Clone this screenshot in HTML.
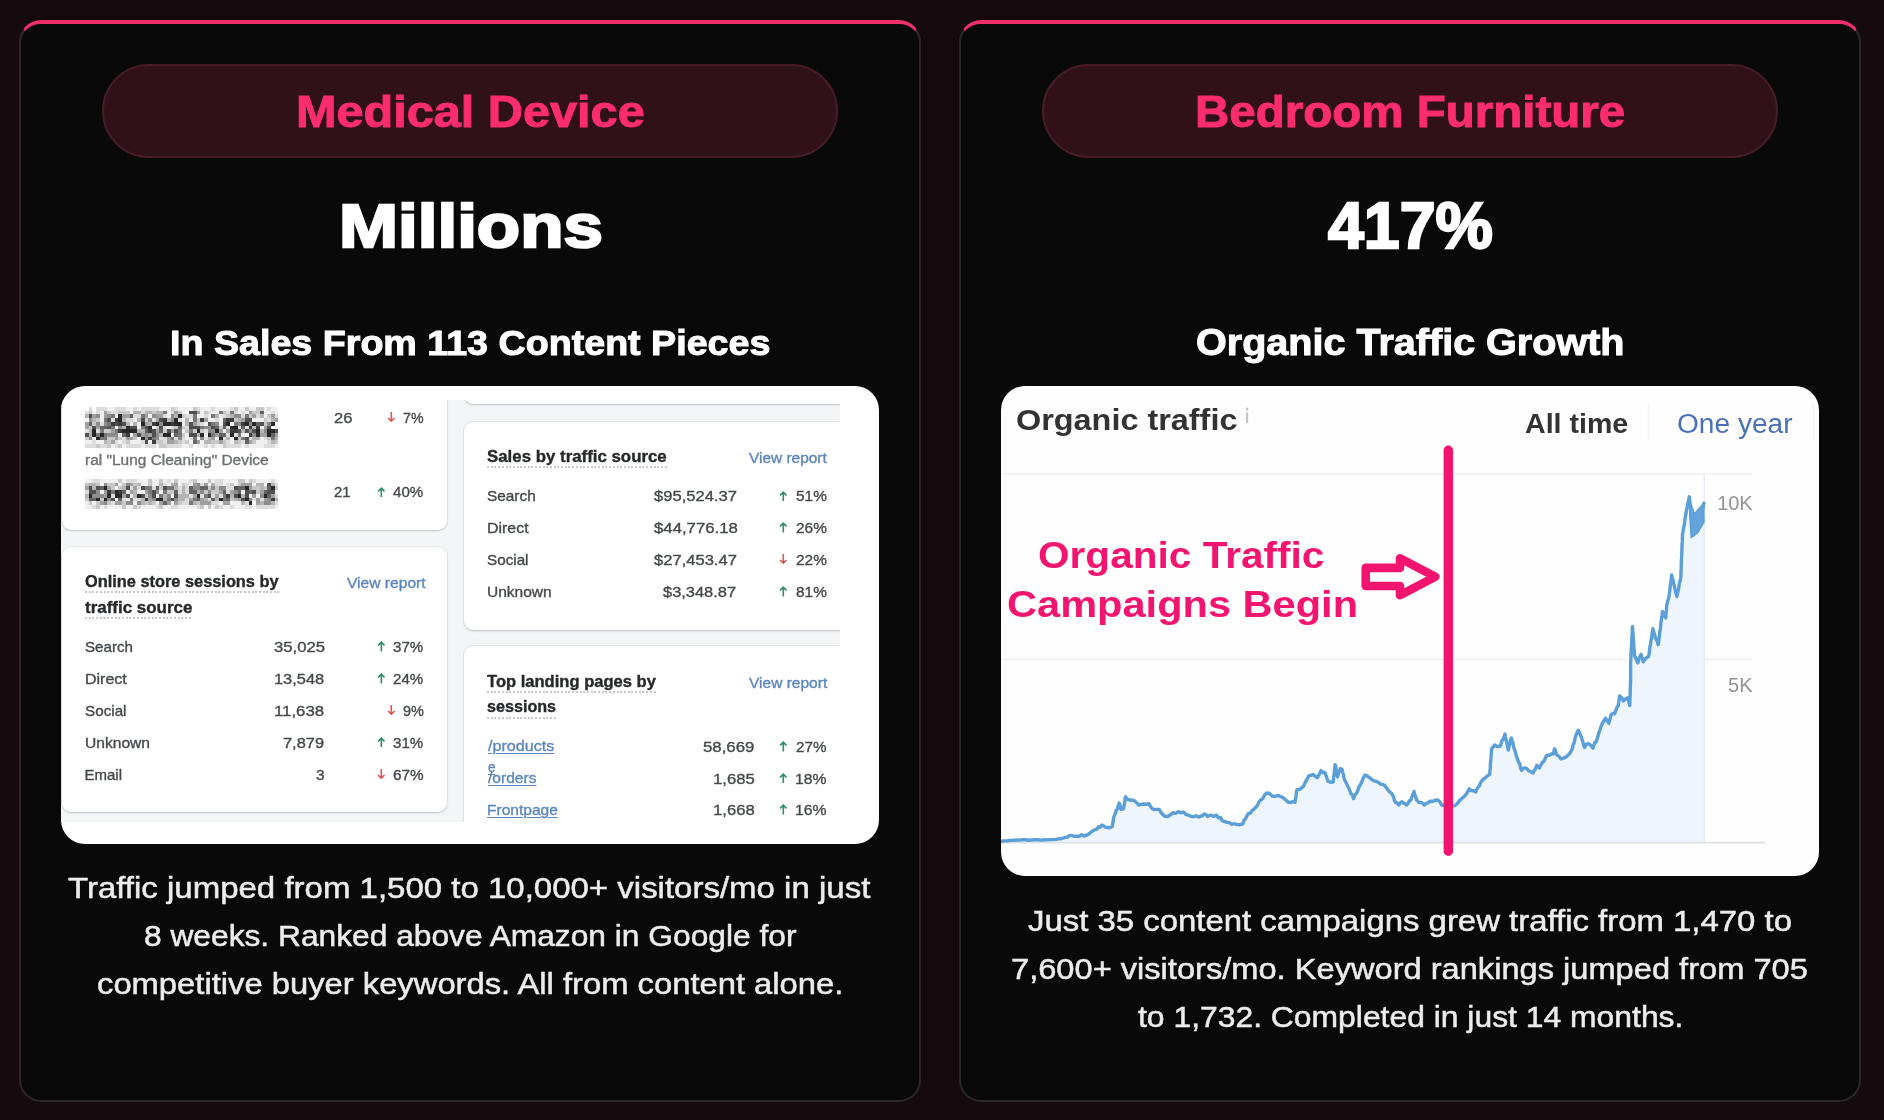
<!DOCTYPE html>
<html>
<head>
<meta charset="utf-8">
<style>
*{box-sizing:border-box;margin:0;padding:0}
html,body{width:1884px;height:1120px;overflow:hidden}
body{background:#150a0e;font-family:"Liberation Sans",sans-serif;position:relative}
.card{position:absolute;top:20px;width:902px;height:1082px;background:#090909;border:2px solid #2b282a;border-top:4px solid #ee2f6c;border-radius:22px}
#c1{left:19px}
#c2{left:959px}
.t{position:absolute;white-space:pre;line-height:1}
.pill{position:absolute;top:64px;width:736px;height:94px;border-radius:47px;background:#30111a;border:2px solid #481d29}
.shot{position:absolute;background:#fff;border-radius:22px;overflow:hidden}
</style>
</head>
<body>
<div class="card" id="c1"></div>
<div class="card" id="c2"></div>
<div class="pill" style="left:102px"></div>
<div class="pill" style="left:1042px"></div>

<div class="t" id="t1" style="left:295.6px;top:88.91px;font-size:45px;font-weight:bold;color:#fb2d6e;letter-spacing:0.0px;-webkit-text-stroke:1.0px #fb2d6e;transform-origin:0 0;transform:scaleX(1.0806);">Medical Device</div>
<div class="t" id="t2" style="left:1195.0px;top:88.91px;font-size:45px;font-weight:bold;color:#fb2d6e;letter-spacing:0.0px;-webkit-text-stroke:1.0px #fb2d6e;transform-origin:0 0;transform:scaleX(1.0558);">Bedroom Furniture</div>
<div class="t" id="m1" style="left:338.9px;top:194.72px;font-size:62px;font-weight:bold;color:#ffffff;letter-spacing:0.0px;-webkit-text-stroke:2.4px #ffffff;transform-origin:0 0;transform:scaleX(1.1436);">Millions</div>
<div class="t" id="m2" style="left:1328.0px;top:193.28px;font-size:65px;font-weight:bold;color:#ffffff;letter-spacing:0.0px;-webkit-text-stroke:2.4px #ffffff;transform-origin:0 0;transform:scaleX(0.9916);">417%</div>
<div class="t" id="s1" style="left:170.0px;top:324.87px;font-size:35px;font-weight:bold;color:#ffffff;letter-spacing:0.0px;-webkit-text-stroke:1.0px #ffffff;transform-origin:0 0;transform:scaleX(1.0755);">In Sales From 113 Content Pieces</div>
<div class="t" id="s2" style="left:1195.8px;top:324.18px;font-size:37px;font-weight:bold;color:#ffffff;letter-spacing:0.0px;-webkit-text-stroke:1.0px #ffffff;transform-origin:0 0;transform:scaleX(1.0689);">Organic Traffic Growth</div>
<div class="t" id="p1a" style="left:68.3px;top:873.36px;font-size:30px;font-weight:normal;color:#ececec;letter-spacing:0.0px;-webkit-text-stroke:0.5px #ececec;transform-origin:0 0;transform:scaleX(1.0998);">Traffic jumped from 1,500 to 10,000+ visitors/mo in just</div>
<div class="t" id="p1b" style="left:143.7px;top:921.36px;font-size:30px;font-weight:normal;color:#ececec;letter-spacing:0.0px;-webkit-text-stroke:0.5px #ececec;transform-origin:0 0;transform:scaleX(1.0574);">8 weeks. Ranked above Amazon in Google for</div>
<div class="t" id="p1c" style="left:97.0px;top:969.36px;font-size:30px;font-weight:normal;color:#ececec;letter-spacing:0.0px;-webkit-text-stroke:0.5px #ececec;transform-origin:0 0;transform:scaleX(1.0917);">competitive buyer keywords. All from content alone.</div>
<div class="t" id="p2a" style="left:1027.9px;top:905.56px;font-size:30px;font-weight:normal;color:#ececec;letter-spacing:0.0px;-webkit-text-stroke:0.5px #ececec;transform-origin:0 0;transform:scaleX(1.0969);">Just 35 content campaigns grew traffic from 1,470 to</div>
<div class="t" id="p2b" style="left:1011.3px;top:953.56px;font-size:30px;font-weight:normal;color:#ececec;letter-spacing:0.0px;-webkit-text-stroke:0.5px #ececec;transform-origin:0 0;transform:scaleX(1.0873);">7,600+ visitors/mo. Keyword rankings jumped from 705</div>
<div class="t" id="p2c" style="left:1138.2px;top:1001.56px;font-size:30px;font-weight:normal;color:#ececec;letter-spacing:0.0px;-webkit-text-stroke:0.5px #ececec;transform-origin:0 0;transform:scaleX(1.0618);">to 1,732. Completed in just 14 months.</div>
<div class="shot" id="shot1" style="left:61px;top:386px;width:818px;height:458px;border-radius:24px">
<div id="img1" style="position:absolute;left:0;top:14px;width:779px;height:421.7px;background:#f3f5f7;overflow:hidden;filter:blur(0.45px)">
<div style="position:absolute;left:1px;top:-20px;width:384.5px;height:149.5px;background:#fff;border-radius:0 0 9px 9px;box-shadow:0 1px 2px rgba(40,50,60,.22),0 0 0 1px rgba(60,70,80,.05);"></div>
<div style="position:absolute;left:1px;top:147px;width:384.5px;height:264.7px;background:#fff;border-radius:9px;box-shadow:0 1px 2px rgba(40,50,60,.22),0 0 0 1px rgba(60,70,80,.05);"></div>
<div style="position:absolute;left:403px;top:-20px;width:396px;height:23.8px;background:#fff;border-radius:0 0 0 9px;box-shadow:0 1px 2px rgba(40,50,60,.22),0 0 0 1px rgba(60,70,80,.05);"></div>
<div style="position:absolute;left:403px;top:21.5px;width:396px;height:208.1px;background:#fff;border-radius:9px 0 0 9px;box-shadow:0 1px 2px rgba(40,50,60,.22),0 0 0 1px rgba(60,70,80,.05);"></div>
<div style="position:absolute;left:403px;top:246px;width:396px;height:194px;background:#fff;border-radius:9px 0 0 0;box-shadow:0 1px 2px rgba(40,50,60,.22),0 0 0 1px rgba(60,70,80,.05);"></div>
</div>
<div style="position:absolute;left:23.8px;top:205.4px;width:194.2px;height:2px;background:repeating-linear-gradient(90deg,#c6c9cd 0 2px,transparent 2px 3.7px);filter:blur(0.4px)"></div>
<div style="position:absolute;left:23.8px;top:231px;width:107.2px;height:2px;background:repeating-linear-gradient(90deg,#c6c9cd 0 2px,transparent 2px 3.7px);filter:blur(0.4px)"></div>
<div style="position:absolute;left:425.6px;top:80.2px;width:180.4px;height:2px;background:repeating-linear-gradient(90deg,#c6c9cd 0 2px,transparent 2px 3.7px);filter:blur(0.4px)"></div>
<div style="position:absolute;left:426.4px;top:305.3px;width:169.1px;height:2px;background:repeating-linear-gradient(90deg,#c6c9cd 0 2px,transparent 2px 3.7px);filter:blur(0.4px)"></div>
<div style="position:absolute;left:426.4px;top:330.8px;width:69.1px;height:2px;background:repeating-linear-gradient(90deg,#c6c9cd 0 2px,transparent 2px 3.7px);filter:blur(0.4px)"></div>
<svg style="position:absolute;left:326.0px;top:26.2px;filter:blur(0.4px)" width="8.6" height="10.4" viewBox="0 0 8.6 10.4"><path d="M4.3 0V9.2M1.1 6L4.3 9.2L7.5 6" fill="none" stroke="#d8574e" stroke-width="1.6"/></svg>
<svg style="position:absolute;left:316.2px;top:100.7px;filter:blur(0.4px)" width="8.6" height="10.4" viewBox="0 0 8.6 10.4"><path d="M4.3 10.4V1.2M1.1 4.4L4.3 1.2L7.5 4.4" fill="none" stroke="#2f8f6c" stroke-width="1.6"/></svg>
<svg style="position:absolute;left:316.2px;top:255.4px;filter:blur(0.4px)" width="8.6" height="10.4" viewBox="0 0 8.6 10.4"><path d="M4.3 10.4V1.2M1.1 4.4L4.3 1.2L7.5 4.4" fill="none" stroke="#2f8f6c" stroke-width="1.6"/></svg>
<svg style="position:absolute;left:316.2px;top:287.3px;filter:blur(0.4px)" width="8.6" height="10.4" viewBox="0 0 8.6 10.4"><path d="M4.3 10.4V1.2M1.1 4.4L4.3 1.2L7.5 4.4" fill="none" stroke="#2f8f6c" stroke-width="1.6"/></svg>
<svg style="position:absolute;left:326.0px;top:319.1px;filter:blur(0.4px)" width="8.6" height="10.4" viewBox="0 0 8.6 10.4"><path d="M4.3 0V9.2M1.1 6L4.3 9.2L7.5 6" fill="none" stroke="#d8574e" stroke-width="1.6"/></svg>
<svg style="position:absolute;left:316.2px;top:351.0px;filter:blur(0.4px)" width="8.6" height="10.4" viewBox="0 0 8.6 10.4"><path d="M4.3 10.4V1.2M1.1 4.4L4.3 1.2L7.5 4.4" fill="none" stroke="#2f8f6c" stroke-width="1.6"/></svg>
<svg style="position:absolute;left:316.2px;top:382.8px;filter:blur(0.4px)" width="8.6" height="10.4" viewBox="0 0 8.6 10.4"><path d="M4.3 0V9.2M1.1 6L4.3 9.2L7.5 6" fill="none" stroke="#d8574e" stroke-width="1.6"/></svg>
<svg style="position:absolute;left:718.4px;top:104.5px;filter:blur(0.4px)" width="8.6" height="10.4" viewBox="0 0 8.6 10.4"><path d="M4.3 10.4V1.2M1.1 4.4L4.3 1.2L7.5 4.4" fill="none" stroke="#2f8f6c" stroke-width="1.6"/></svg>
<svg style="position:absolute;left:718.4px;top:136.4px;filter:blur(0.4px)" width="8.6" height="10.4" viewBox="0 0 8.6 10.4"><path d="M4.3 10.4V1.2M1.1 4.4L4.3 1.2L7.5 4.4" fill="none" stroke="#2f8f6c" stroke-width="1.6"/></svg>
<svg style="position:absolute;left:718.4px;top:168.4px;filter:blur(0.4px)" width="8.6" height="10.4" viewBox="0 0 8.6 10.4"><path d="M4.3 0V9.2M1.1 6L4.3 9.2L7.5 6" fill="none" stroke="#d8574e" stroke-width="1.6"/></svg>
<svg style="position:absolute;left:718.4px;top:200.4px;filter:blur(0.4px)" width="8.6" height="10.4" viewBox="0 0 8.6 10.4"><path d="M4.3 10.4V1.2M1.1 4.4L4.3 1.2L7.5 4.4" fill="none" stroke="#2f8f6c" stroke-width="1.6"/></svg>
<svg style="position:absolute;left:718.4px;top:355.2px;filter:blur(0.4px)" width="8.6" height="10.4" viewBox="0 0 8.6 10.4"><path d="M4.3 10.4V1.2M1.1 4.4L4.3 1.2L7.5 4.4" fill="none" stroke="#2f8f6c" stroke-width="1.6"/></svg>
<svg style="position:absolute;left:718.4px;top:386.9px;filter:blur(0.4px)" width="8.6" height="10.4" viewBox="0 0 8.6 10.4"><path d="M4.3 10.4V1.2M1.1 4.4L4.3 1.2L7.5 4.4" fill="none" stroke="#2f8f6c" stroke-width="1.6"/></svg>
<svg style="position:absolute;left:718.4px;top:418.4px;filter:blur(0.4px)" width="8.6" height="10.4" viewBox="0 0 8.6 10.4"><path d="M4.3 10.4V1.2M1.1 4.4L4.3 1.2L7.5 4.4" fill="none" stroke="#2f8f6c" stroke-width="1.6"/></svg>
<svg style="position:absolute;left:23.8px;top:20.8px;filter:blur(0.5px)" width="193.4" height="40.9" viewBox="0 0 193.4 40.9" shape-rendering="crispEdges"><path fill="rgb(40,40,40)" d="M33.48 7.44h3.72v3.72h-3.72zM93.0 7.44h3.72v3.72h-3.72zM33.48 11.16h3.72v3.72h-3.72zM89.28 11.16h3.72v3.72h-3.72zM55.8 14.88h3.72v3.72h-3.72zM70.68 14.88h3.72v3.72h-3.72zM78.12 14.88h3.72v3.72h-3.72zM81.84 14.88h3.72v3.72h-3.72zM89.28 14.88h3.72v3.72h-3.72zM93.0 14.88h3.72v3.72h-3.72zM141.36 14.88h3.72v3.72h-3.72zM159.96 14.88h3.72v3.72h-3.72zM167.4 14.88h3.72v3.72h-3.72zM186.0 14.88h3.72v3.72h-3.72zM40.92 18.6h3.72v3.72h-3.72zM63.24 18.6h3.72v3.72h-3.72zM145.08 18.6h3.72v3.72h-3.72zM148.8 18.6h3.72v3.72h-3.72zM7.44 22.32h3.72v3.72h-3.72zM37.2 22.32h3.72v3.72h-3.72zM40.92 22.32h3.72v3.72h-3.72zM44.64 22.32h3.72v3.72h-3.72zM48.36 22.32h3.72v3.72h-3.72zM111.6 22.32h3.72v3.72h-3.72zM130.2 22.32h3.72v3.72h-3.72zM171.12 22.32h3.72v3.72h-3.72zM182.28 22.32h3.72v3.72h-3.72zM186.0 22.32h3.72v3.72h-3.72zM7.44 26.04h3.72v3.72h-3.72zM14.88 26.04h3.72v3.72h-3.72zM78.12 26.04h3.72v3.72h-3.72zM81.84 26.04h3.72v3.72h-3.72zM115.32 26.04h3.72v3.72h-3.72zM122.76 26.04h3.72v3.72h-3.72zM145.08 26.04h3.72v3.72h-3.72zM171.12 26.04h3.72v3.72h-3.72zM182.28 26.04h3.72v3.72h-3.72zM11.16 29.76h3.72v3.72h-3.72zM55.8 29.76h3.72v3.72h-3.72zM133.92 29.76h3.72v3.72h-3.72zM148.8 29.76h3.72v3.72h-3.72z"/><path fill="rgb(60,60,60)" d="M29.76 11.16h3.72v3.72h-3.72zM78.12 11.16h3.72v3.72h-3.72zM115.32 11.16h3.72v3.72h-3.72zM141.36 11.16h3.72v3.72h-3.72zM145.08 11.16h3.72v3.72h-3.72zM26.04 14.88h3.72v3.72h-3.72zM33.48 14.88h3.72v3.72h-3.72zM66.96 14.88h3.72v3.72h-3.72zM85.56 14.88h3.72v3.72h-3.72zM156.24 14.88h3.72v3.72h-3.72zM163.68 18.6h3.72v3.72h-3.72zM171.12 18.6h3.72v3.72h-3.72zM33.48 22.32h3.72v3.72h-3.72zM63.24 22.32h3.72v3.72h-3.72zM145.08 22.32h3.72v3.72h-3.72zM148.8 22.32h3.72v3.72h-3.72zM40.92 26.04h3.72v3.72h-3.72zM163.68 26.04h3.72v3.72h-3.72zM63.24 29.76h3.72v3.72h-3.72zM66.96 33.48h3.72v3.72h-3.72z"/><path fill="rgb(80,80,80)" d="M104.16 3.72h3.72v3.72h-3.72zM107.88 3.72h3.72v3.72h-3.72zM3.72 7.44h3.72v3.72h-3.72zM22.32 11.16h3.72v3.72h-3.72zM55.8 11.16h3.72v3.72h-3.72zM74.4 11.16h3.72v3.72h-3.72zM159.96 11.16h3.72v3.72h-3.72zM163.68 11.16h3.72v3.72h-3.72zM29.76 14.88h3.72v3.72h-3.72zM37.2 14.88h3.72v3.72h-3.72zM104.16 14.88h3.72v3.72h-3.72zM122.76 14.88h3.72v3.72h-3.72zM137.64 14.88h3.72v3.72h-3.72zM174.84 14.88h3.72v3.72h-3.72zM7.44 18.6h3.72v3.72h-3.72zM22.32 18.6h3.72v3.72h-3.72zM44.64 18.6h3.72v3.72h-3.72zM48.36 18.6h3.72v3.72h-3.72zM59.52 18.6h3.72v3.72h-3.72zM74.4 18.6h3.72v3.72h-3.72zM104.16 18.6h3.72v3.72h-3.72zM107.88 18.6h3.72v3.72h-3.72zM111.6 18.6h3.72v3.72h-3.72zM126.48 18.6h3.72v3.72h-3.72zM182.28 18.6h3.72v3.72h-3.72zM66.96 22.32h3.72v3.72h-3.72zM81.84 22.32h3.72v3.72h-3.72zM89.28 22.32h3.72v3.72h-3.72zM152.52 22.32h3.72v3.72h-3.72zM159.96 22.32h3.72v3.72h-3.72zM167.4 22.32h3.72v3.72h-3.72zM189.72 22.32h3.72v3.72h-3.72zM0.0 26.04h3.72v3.72h-3.72zM52.08 26.04h3.72v3.72h-3.72zM66.96 26.04h3.72v3.72h-3.72zM104.16 26.04h3.72v3.72h-3.72zM107.88 26.04h3.72v3.72h-3.72zM159.96 29.76h3.72v3.72h-3.72zM59.52 33.48h3.72v3.72h-3.72z"/><path fill="rgb(100,100,100)" d="M174.84 3.72h3.72v3.72h-3.72zM44.64 7.44h3.72v3.72h-3.72zM137.64 11.16h3.72v3.72h-3.72zM3.72 14.88h3.72v3.72h-3.72zM171.12 14.88h3.72v3.72h-3.72zM14.88 18.6h3.72v3.72h-3.72zM18.6 18.6h3.72v3.72h-3.72zM93.0 18.6h3.72v3.72h-3.72zM130.2 18.6h3.72v3.72h-3.72zM137.64 18.6h3.72v3.72h-3.72zM156.24 18.6h3.72v3.72h-3.72zM59.52 22.32h3.72v3.72h-3.72zM74.4 22.32h3.72v3.72h-3.72zM37.2 26.04h3.72v3.72h-3.72zM89.28 26.04h3.72v3.72h-3.72zM133.92 26.04h3.72v3.72h-3.72zM137.64 26.04h3.72v3.72h-3.72zM186.0 26.04h3.72v3.72h-3.72zM107.88 33.48h3.72v3.72h-3.72zM159.96 33.48h3.72v3.72h-3.72z"/><path fill="rgb(120,120,120)" d="M78.12 3.72h3.72v3.72h-3.72zM133.92 3.72h3.72v3.72h-3.72zM145.08 3.72h3.72v3.72h-3.72zM26.04 7.44h3.72v3.72h-3.72zM55.8 7.44h3.72v3.72h-3.72zM107.88 7.44h3.72v3.72h-3.72zM126.48 7.44h3.72v3.72h-3.72zM159.96 7.44h3.72v3.72h-3.72zM18.6 11.16h3.72v3.72h-3.72zM107.88 11.16h3.72v3.72h-3.72zM22.32 14.88h3.72v3.72h-3.72zM126.48 14.88h3.72v3.72h-3.72zM148.8 14.88h3.72v3.72h-3.72zM26.04 18.6h3.72v3.72h-3.72zM55.8 18.6h3.72v3.72h-3.72zM115.32 18.6h3.72v3.72h-3.72zM14.88 22.32h3.72v3.72h-3.72zM29.76 22.32h3.72v3.72h-3.72zM93.0 22.32h3.72v3.72h-3.72zM104.16 22.32h3.72v3.72h-3.72zM11.16 26.04h3.72v3.72h-3.72zM18.6 26.04h3.72v3.72h-3.72zM93.0 26.04h3.72v3.72h-3.72zM126.48 26.04h3.72v3.72h-3.72zM152.52 26.04h3.72v3.72h-3.72zM14.88 29.76h3.72v3.72h-3.72zM18.6 29.76h3.72v3.72h-3.72zM66.96 29.76h3.72v3.72h-3.72zM85.56 29.76h3.72v3.72h-3.72zM107.88 29.76h3.72v3.72h-3.72zM156.24 29.76h3.72v3.72h-3.72zM186.0 29.76h3.72v3.72h-3.72z"/><path fill="rgb(140,140,140)" d="M11.16 7.44h3.72v3.72h-3.72zM22.32 7.44h3.72v3.72h-3.72zM66.96 7.44h3.72v3.72h-3.72zM85.56 7.44h3.72v3.72h-3.72zM148.8 7.44h3.72v3.72h-3.72zM152.52 7.44h3.72v3.72h-3.72zM3.72 11.16h3.72v3.72h-3.72zM63.24 11.16h3.72v3.72h-3.72zM85.56 11.16h3.72v3.72h-3.72zM11.16 14.88h3.72v3.72h-3.72zM18.6 14.88h3.72v3.72h-3.72zM74.4 14.88h3.72v3.72h-3.72zM130.2 14.88h3.72v3.72h-3.72zM152.52 14.88h3.72v3.72h-3.72zM163.68 14.88h3.72v3.72h-3.72zM182.28 14.88h3.72v3.72h-3.72zM33.48 18.6h3.72v3.72h-3.72zM119.04 18.6h3.72v3.72h-3.72zM122.76 18.6h3.72v3.72h-3.72zM122.76 22.32h3.72v3.72h-3.72zM126.48 22.32h3.72v3.72h-3.72zM163.68 22.32h3.72v3.72h-3.72zM178.56 22.32h3.72v3.72h-3.72zM22.32 26.04h3.72v3.72h-3.72zM26.04 26.04h3.72v3.72h-3.72zM29.76 26.04h3.72v3.72h-3.72zM59.52 26.04h3.72v3.72h-3.72zM70.68 26.04h3.72v3.72h-3.72zM167.4 26.04h3.72v3.72h-3.72zM3.72 29.76h3.72v3.72h-3.72zM59.52 29.76h3.72v3.72h-3.72zM70.68 29.76h3.72v3.72h-3.72zM93.0 29.76h3.72v3.72h-3.72zM115.32 29.76h3.72v3.72h-3.72z"/><path fill="rgb(160,160,160)" d="M18.6 3.72h3.72v3.72h-3.72zM89.28 3.72h3.72v3.72h-3.72zM111.6 3.72h3.72v3.72h-3.72zM163.68 3.72h3.72v3.72h-3.72zM7.44 7.44h3.72v3.72h-3.72zM18.6 7.44h3.72v3.72h-3.72zM37.2 7.44h3.72v3.72h-3.72zM40.92 7.44h3.72v3.72h-3.72zM59.52 7.44h3.72v3.72h-3.72zM70.68 7.44h3.72v3.72h-3.72zM74.4 7.44h3.72v3.72h-3.72zM167.4 7.44h3.72v3.72h-3.72zM186.0 7.44h3.72v3.72h-3.72zM70.68 11.16h3.72v3.72h-3.72zM119.04 11.16h3.72v3.72h-3.72zM156.24 11.16h3.72v3.72h-3.72zM189.72 11.16h3.72v3.72h-3.72zM0.0 14.88h3.72v3.72h-3.72zM59.52 14.88h3.72v3.72h-3.72zM107.88 14.88h3.72v3.72h-3.72zM0.0 18.6h3.72v3.72h-3.72zM11.16 18.6h3.72v3.72h-3.72zM178.56 18.6h3.72v3.72h-3.72zM26.04 22.32h3.72v3.72h-3.72zM70.68 22.32h3.72v3.72h-3.72zM85.56 22.32h3.72v3.72h-3.72zM133.92 22.32h3.72v3.72h-3.72zM141.36 22.32h3.72v3.72h-3.72zM48.36 26.04h3.72v3.72h-3.72zM55.8 26.04h3.72v3.72h-3.72zM63.24 26.04h3.72v3.72h-3.72zM130.2 26.04h3.72v3.72h-3.72zM174.84 26.04h3.72v3.72h-3.72zM178.56 26.04h3.72v3.72h-3.72zM189.72 26.04h3.72v3.72h-3.72zM29.76 29.76h3.72v3.72h-3.72zM40.92 29.76h3.72v3.72h-3.72zM44.64 29.76h3.72v3.72h-3.72zM81.84 29.76h3.72v3.72h-3.72zM126.48 29.76h3.72v3.72h-3.72zM26.04 33.48h3.72v3.72h-3.72zM81.84 33.48h3.72v3.72h-3.72zM85.56 33.48h3.72v3.72h-3.72zM111.6 33.48h3.72v3.72h-3.72zM133.92 33.48h3.72v3.72h-3.72zM163.68 33.48h3.72v3.72h-3.72z"/><path fill="rgb(180,180,180)" d="M48.36 3.72h3.72v3.72h-3.72zM52.08 3.72h3.72v3.72h-3.72zM59.52 3.72h3.72v3.72h-3.72zM63.24 3.72h3.72v3.72h-3.72zM70.68 3.72h3.72v3.72h-3.72zM74.4 3.72h3.72v3.72h-3.72zM0.0 7.44h3.72v3.72h-3.72zM89.28 7.44h3.72v3.72h-3.72zM130.2 7.44h3.72v3.72h-3.72zM145.08 7.44h3.72v3.72h-3.72zM174.84 7.44h3.72v3.72h-3.72zM7.44 11.16h3.72v3.72h-3.72zM37.2 11.16h3.72v3.72h-3.72zM52.08 11.16h3.72v3.72h-3.72zM81.84 11.16h3.72v3.72h-3.72zM100.44 11.16h3.72v3.72h-3.72zM152.52 11.16h3.72v3.72h-3.72zM186.0 11.16h3.72v3.72h-3.72zM40.92 14.88h3.72v3.72h-3.72zM48.36 14.88h3.72v3.72h-3.72zM63.24 14.88h3.72v3.72h-3.72zM100.44 14.88h3.72v3.72h-3.72zM37.2 18.6h3.72v3.72h-3.72zM167.4 18.6h3.72v3.72h-3.72zM3.72 22.32h3.72v3.72h-3.72zM52.08 22.32h3.72v3.72h-3.72zM55.8 22.32h3.72v3.72h-3.72zM156.24 22.32h3.72v3.72h-3.72zM174.84 22.32h3.72v3.72h-3.72zM3.72 26.04h3.72v3.72h-3.72zM74.4 26.04h3.72v3.72h-3.72zM111.6 26.04h3.72v3.72h-3.72zM122.76 29.76h3.72v3.72h-3.72zM141.36 29.76h3.72v3.72h-3.72zM167.4 29.76h3.72v3.72h-3.72zM171.12 29.76h3.72v3.72h-3.72zM189.72 29.76h3.72v3.72h-3.72zM18.6 33.48h3.72v3.72h-3.72zM89.28 33.48h3.72v3.72h-3.72zM119.04 33.48h3.72v3.72h-3.72zM122.76 33.48h3.72v3.72h-3.72zM148.8 33.48h3.72v3.72h-3.72zM186.0 33.48h3.72v3.72h-3.72z"/><path fill="rgb(200,200,200)" d="M85.56 0.0h3.72v3.72h-3.72zM107.88 0.0h3.72v3.72h-3.72zM148.8 0.0h3.72v3.72h-3.72zM159.96 0.0h3.72v3.72h-3.72zM171.12 0.0h3.72v3.72h-3.72zM174.84 0.0h3.72v3.72h-3.72zM3.72 3.72h3.72v3.72h-3.72zM22.32 3.72h3.72v3.72h-3.72zM33.48 3.72h3.72v3.72h-3.72zM37.2 3.72h3.72v3.72h-3.72zM40.92 3.72h3.72v3.72h-3.72zM66.96 3.72h3.72v3.72h-3.72zM93.0 3.72h3.72v3.72h-3.72zM119.04 3.72h3.72v3.72h-3.72zM137.64 3.72h3.72v3.72h-3.72zM167.4 3.72h3.72v3.72h-3.72zM171.12 3.72h3.72v3.72h-3.72zM96.72 7.44h3.72v3.72h-3.72zM141.36 7.44h3.72v3.72h-3.72zM163.68 7.44h3.72v3.72h-3.72zM182.28 7.44h3.72v3.72h-3.72zM11.16 11.16h3.72v3.72h-3.72zM59.52 11.16h3.72v3.72h-3.72zM111.6 11.16h3.72v3.72h-3.72zM148.8 11.16h3.72v3.72h-3.72zM178.56 11.16h3.72v3.72h-3.72zM7.44 14.88h3.72v3.72h-3.72zM111.6 14.88h3.72v3.72h-3.72zM178.56 14.88h3.72v3.72h-3.72zM3.72 18.6h3.72v3.72h-3.72zM70.68 18.6h3.72v3.72h-3.72zM89.28 18.6h3.72v3.72h-3.72zM96.72 18.6h3.72v3.72h-3.72zM133.92 18.6h3.72v3.72h-3.72zM18.6 22.32h3.72v3.72h-3.72zM22.32 22.32h3.72v3.72h-3.72zM78.12 22.32h3.72v3.72h-3.72zM100.44 22.32h3.72v3.72h-3.72zM107.88 22.32h3.72v3.72h-3.72zM115.32 22.32h3.72v3.72h-3.72zM96.72 26.04h3.72v3.72h-3.72zM0.0 29.76h3.72v3.72h-3.72zM22.32 29.76h3.72v3.72h-3.72zM26.04 29.76h3.72v3.72h-3.72zM33.48 29.76h3.72v3.72h-3.72zM48.36 29.76h3.72v3.72h-3.72zM152.52 29.76h3.72v3.72h-3.72zM182.28 29.76h3.72v3.72h-3.72zM22.32 33.48h3.72v3.72h-3.72zM40.92 33.48h3.72v3.72h-3.72zM70.68 33.48h3.72v3.72h-3.72zM74.4 33.48h3.72v3.72h-3.72zM93.0 33.48h3.72v3.72h-3.72zM100.44 33.48h3.72v3.72h-3.72zM126.48 33.48h3.72v3.72h-3.72zM130.2 33.48h3.72v3.72h-3.72zM137.64 33.48h3.72v3.72h-3.72zM152.52 33.48h3.72v3.72h-3.72zM167.4 33.48h3.72v3.72h-3.72zM189.72 33.48h3.72v3.72h-3.72zM11.16 37.2h3.72v3.72h-3.72zM22.32 37.2h3.72v3.72h-3.72zM33.48 37.2h3.72v3.72h-3.72zM74.4 37.2h3.72v3.72h-3.72zM78.12 37.2h3.72v3.72h-3.72zM137.64 37.2h3.72v3.72h-3.72z"/><path fill="rgb(220,220,220)" d="M3.72 0.0h3.72v3.72h-3.72zM11.16 0.0h3.72v3.72h-3.72zM14.88 0.0h3.72v3.72h-3.72zM18.6 0.0h3.72v3.72h-3.72zM29.76 0.0h3.72v3.72h-3.72zM33.48 0.0h3.72v3.72h-3.72zM37.2 0.0h3.72v3.72h-3.72zM48.36 0.0h3.72v3.72h-3.72zM55.8 0.0h3.72v3.72h-3.72zM59.52 0.0h3.72v3.72h-3.72zM63.24 0.0h3.72v3.72h-3.72zM66.96 0.0h3.72v3.72h-3.72zM70.68 0.0h3.72v3.72h-3.72zM89.28 0.0h3.72v3.72h-3.72zM111.6 0.0h3.72v3.72h-3.72zM126.48 0.0h3.72v3.72h-3.72zM145.08 0.0h3.72v3.72h-3.72zM182.28 0.0h3.72v3.72h-3.72zM0.0 3.72h3.72v3.72h-3.72zM11.16 3.72h3.72v3.72h-3.72zM26.04 3.72h3.72v3.72h-3.72zM29.76 3.72h3.72v3.72h-3.72zM55.8 3.72h3.72v3.72h-3.72zM85.56 3.72h3.72v3.72h-3.72zM122.76 3.72h3.72v3.72h-3.72zM141.36 3.72h3.72v3.72h-3.72zM148.8 3.72h3.72v3.72h-3.72zM156.24 3.72h3.72v3.72h-3.72zM186.0 3.72h3.72v3.72h-3.72zM48.36 7.44h3.72v3.72h-3.72zM52.08 7.44h3.72v3.72h-3.72zM78.12 7.44h3.72v3.72h-3.72zM100.44 7.44h3.72v3.72h-3.72zM104.16 7.44h3.72v3.72h-3.72zM119.04 7.44h3.72v3.72h-3.72zM137.64 7.44h3.72v3.72h-3.72zM156.24 7.44h3.72v3.72h-3.72zM171.12 7.44h3.72v3.72h-3.72zM189.72 7.44h3.72v3.72h-3.72zM26.04 11.16h3.72v3.72h-3.72zM40.92 11.16h3.72v3.72h-3.72zM44.64 11.16h3.72v3.72h-3.72zM66.96 11.16h3.72v3.72h-3.72zM93.0 11.16h3.72v3.72h-3.72zM130.2 11.16h3.72v3.72h-3.72zM182.28 11.16h3.72v3.72h-3.72zM14.88 14.88h3.72v3.72h-3.72zM115.32 14.88h3.72v3.72h-3.72zM78.12 18.6h3.72v3.72h-3.72zM85.56 18.6h3.72v3.72h-3.72zM100.44 18.6h3.72v3.72h-3.72zM141.36 18.6h3.72v3.72h-3.72zM152.52 18.6h3.72v3.72h-3.72zM159.96 18.6h3.72v3.72h-3.72zM0.0 22.32h3.72v3.72h-3.72zM11.16 22.32h3.72v3.72h-3.72zM119.04 22.32h3.72v3.72h-3.72zM141.36 26.04h3.72v3.72h-3.72zM148.8 26.04h3.72v3.72h-3.72zM37.2 29.76h3.72v3.72h-3.72zM74.4 29.76h3.72v3.72h-3.72zM78.12 29.76h3.72v3.72h-3.72zM89.28 29.76h3.72v3.72h-3.72zM96.72 29.76h3.72v3.72h-3.72zM104.16 29.76h3.72v3.72h-3.72zM119.04 29.76h3.72v3.72h-3.72zM137.64 29.76h3.72v3.72h-3.72zM163.68 29.76h3.72v3.72h-3.72zM178.56 29.76h3.72v3.72h-3.72zM7.44 33.48h3.72v3.72h-3.72zM29.76 33.48h3.72v3.72h-3.72zM37.2 33.48h3.72v3.72h-3.72zM55.8 33.48h3.72v3.72h-3.72zM78.12 33.48h3.72v3.72h-3.72zM96.72 33.48h3.72v3.72h-3.72zM141.36 33.48h3.72v3.72h-3.72zM156.24 33.48h3.72v3.72h-3.72zM182.28 33.48h3.72v3.72h-3.72zM0.0 37.2h3.72v3.72h-3.72zM3.72 37.2h3.72v3.72h-3.72zM7.44 37.2h3.72v3.72h-3.72zM14.88 37.2h3.72v3.72h-3.72zM18.6 37.2h3.72v3.72h-3.72zM29.76 37.2h3.72v3.72h-3.72zM40.92 37.2h3.72v3.72h-3.72zM44.64 37.2h3.72v3.72h-3.72zM48.36 37.2h3.72v3.72h-3.72zM52.08 37.2h3.72v3.72h-3.72zM59.52 37.2h3.72v3.72h-3.72zM63.24 37.2h3.72v3.72h-3.72zM66.96 37.2h3.72v3.72h-3.72zM81.84 37.2h3.72v3.72h-3.72zM85.56 37.2h3.72v3.72h-3.72zM89.28 37.2h3.72v3.72h-3.72zM93.0 37.2h3.72v3.72h-3.72zM104.16 37.2h3.72v3.72h-3.72zM119.04 37.2h3.72v3.72h-3.72zM126.48 37.2h3.72v3.72h-3.72zM141.36 37.2h3.72v3.72h-3.72zM145.08 37.2h3.72v3.72h-3.72zM148.8 37.2h3.72v3.72h-3.72zM152.52 37.2h3.72v3.72h-3.72zM159.96 37.2h3.72v3.72h-3.72zM178.56 37.2h3.72v3.72h-3.72zM182.28 37.2h3.72v3.72h-3.72zM186.0 37.2h3.72v3.72h-3.72z"/><path fill="rgb(240,240,240)" d="M22.32 0.0h3.72v3.72h-3.72zM26.04 0.0h3.72v3.72h-3.72zM40.92 0.0h3.72v3.72h-3.72zM44.64 0.0h3.72v3.72h-3.72zM52.08 0.0h3.72v3.72h-3.72zM74.4 0.0h3.72v3.72h-3.72zM78.12 0.0h3.72v3.72h-3.72zM81.84 0.0h3.72v3.72h-3.72zM93.0 0.0h3.72v3.72h-3.72zM96.72 0.0h3.72v3.72h-3.72zM100.44 0.0h3.72v3.72h-3.72zM104.16 0.0h3.72v3.72h-3.72zM115.32 0.0h3.72v3.72h-3.72zM119.04 0.0h3.72v3.72h-3.72zM122.76 0.0h3.72v3.72h-3.72zM130.2 0.0h3.72v3.72h-3.72zM133.92 0.0h3.72v3.72h-3.72zM137.64 0.0h3.72v3.72h-3.72zM141.36 0.0h3.72v3.72h-3.72zM152.52 0.0h3.72v3.72h-3.72zM156.24 0.0h3.72v3.72h-3.72zM163.68 0.0h3.72v3.72h-3.72zM167.4 0.0h3.72v3.72h-3.72zM178.56 0.0h3.72v3.72h-3.72zM186.0 0.0h3.72v3.72h-3.72zM189.72 0.0h3.72v3.72h-3.72zM7.44 3.72h3.72v3.72h-3.72zM14.88 3.72h3.72v3.72h-3.72zM44.64 3.72h3.72v3.72h-3.72zM81.84 3.72h3.72v3.72h-3.72zM96.72 3.72h3.72v3.72h-3.72zM115.32 3.72h3.72v3.72h-3.72zM126.48 3.72h3.72v3.72h-3.72zM130.2 3.72h3.72v3.72h-3.72zM152.52 3.72h3.72v3.72h-3.72zM159.96 3.72h3.72v3.72h-3.72zM178.56 3.72h3.72v3.72h-3.72zM182.28 3.72h3.72v3.72h-3.72zM189.72 3.72h3.72v3.72h-3.72zM14.88 7.44h3.72v3.72h-3.72zM29.76 7.44h3.72v3.72h-3.72zM63.24 7.44h3.72v3.72h-3.72zM81.84 7.44h3.72v3.72h-3.72zM111.6 7.44h3.72v3.72h-3.72zM115.32 7.44h3.72v3.72h-3.72zM122.76 7.44h3.72v3.72h-3.72zM133.92 7.44h3.72v3.72h-3.72zM178.56 7.44h3.72v3.72h-3.72zM0.0 11.16h3.72v3.72h-3.72zM14.88 11.16h3.72v3.72h-3.72zM48.36 11.16h3.72v3.72h-3.72zM96.72 11.16h3.72v3.72h-3.72zM104.16 11.16h3.72v3.72h-3.72zM122.76 11.16h3.72v3.72h-3.72zM126.48 11.16h3.72v3.72h-3.72zM133.92 11.16h3.72v3.72h-3.72zM167.4 11.16h3.72v3.72h-3.72zM171.12 11.16h3.72v3.72h-3.72zM174.84 11.16h3.72v3.72h-3.72zM44.64 14.88h3.72v3.72h-3.72zM52.08 14.88h3.72v3.72h-3.72zM96.72 14.88h3.72v3.72h-3.72zM119.04 14.88h3.72v3.72h-3.72zM133.92 14.88h3.72v3.72h-3.72zM145.08 14.88h3.72v3.72h-3.72zM189.72 14.88h3.72v3.72h-3.72zM29.76 18.6h3.72v3.72h-3.72zM52.08 18.6h3.72v3.72h-3.72zM66.96 18.6h3.72v3.72h-3.72zM81.84 18.6h3.72v3.72h-3.72zM174.84 18.6h3.72v3.72h-3.72zM189.72 18.6h3.72v3.72h-3.72zM96.72 22.32h3.72v3.72h-3.72zM137.64 22.32h3.72v3.72h-3.72zM33.48 26.04h3.72v3.72h-3.72zM44.64 26.04h3.72v3.72h-3.72zM85.56 26.04h3.72v3.72h-3.72zM100.44 26.04h3.72v3.72h-3.72zM119.04 26.04h3.72v3.72h-3.72zM156.24 26.04h3.72v3.72h-3.72zM7.44 29.76h3.72v3.72h-3.72zM52.08 29.76h3.72v3.72h-3.72zM100.44 29.76h3.72v3.72h-3.72zM111.6 29.76h3.72v3.72h-3.72zM130.2 29.76h3.72v3.72h-3.72zM145.08 29.76h3.72v3.72h-3.72zM174.84 29.76h3.72v3.72h-3.72zM0.0 33.48h3.72v3.72h-3.72zM3.72 33.48h3.72v3.72h-3.72zM11.16 33.48h3.72v3.72h-3.72zM14.88 33.48h3.72v3.72h-3.72zM33.48 33.48h3.72v3.72h-3.72zM44.64 33.48h3.72v3.72h-3.72zM48.36 33.48h3.72v3.72h-3.72zM52.08 33.48h3.72v3.72h-3.72zM63.24 33.48h3.72v3.72h-3.72zM104.16 33.48h3.72v3.72h-3.72zM115.32 33.48h3.72v3.72h-3.72zM145.08 33.48h3.72v3.72h-3.72zM171.12 33.48h3.72v3.72h-3.72zM174.84 33.48h3.72v3.72h-3.72zM178.56 33.48h3.72v3.72h-3.72zM26.04 37.2h3.72v3.72h-3.72zM37.2 37.2h3.72v3.72h-3.72zM55.8 37.2h3.72v3.72h-3.72zM70.68 37.2h3.72v3.72h-3.72zM96.72 37.2h3.72v3.72h-3.72zM100.44 37.2h3.72v3.72h-3.72zM111.6 37.2h3.72v3.72h-3.72zM115.32 37.2h3.72v3.72h-3.72zM122.76 37.2h3.72v3.72h-3.72zM130.2 37.2h3.72v3.72h-3.72zM133.92 37.2h3.72v3.72h-3.72zM156.24 37.2h3.72v3.72h-3.72zM163.68 37.2h3.72v3.72h-3.72zM167.4 37.2h3.72v3.72h-3.72zM171.12 37.2h3.72v3.72h-3.72zM174.84 37.2h3.72v3.72h-3.72zM189.72 37.2h3.72v3.72h-3.72z"/></svg>
<svg style="position:absolute;left:23.8px;top:92.8px;filter:blur(0.5px)" width="193.4" height="29.8" viewBox="0 0 193.4 29.8" shape-rendering="crispEdges"><path fill="rgb(40,40,40)" d="M18.6 7.44h3.72v3.72h-3.72zM159.96 7.44h3.72v3.72h-3.72zM186.0 7.44h3.72v3.72h-3.72zM29.76 11.16h3.72v3.72h-3.72zM3.72 14.88h3.72v3.72h-3.72zM22.32 14.88h3.72v3.72h-3.72zM29.76 14.88h3.72v3.72h-3.72zM33.48 14.88h3.72v3.72h-3.72zM52.08 14.88h3.72v3.72h-3.72zM111.6 14.88h3.72v3.72h-3.72zM152.52 14.88h3.72v3.72h-3.72zM178.56 14.88h3.72v3.72h-3.72zM11.16 18.6h3.72v3.72h-3.72zM18.6 18.6h3.72v3.72h-3.72zM70.68 18.6h3.72v3.72h-3.72zM74.4 18.6h3.72v3.72h-3.72zM133.92 18.6h3.72v3.72h-3.72zM159.96 18.6h3.72v3.72h-3.72zM163.68 22.32h3.72v3.72h-3.72z"/><path fill="rgb(60,60,60)" d="M22.32 11.16h3.72v3.72h-3.72zM33.48 11.16h3.72v3.72h-3.72zM141.36 14.88h3.72v3.72h-3.72zM59.52 18.6h3.72v3.72h-3.72zM186.0 18.6h3.72v3.72h-3.72z"/><path fill="rgb(80,80,80)" d="M182.28 3.72h3.72v3.72h-3.72zM3.72 7.44h3.72v3.72h-3.72zM11.16 7.44h3.72v3.72h-3.72zM40.92 7.44h3.72v3.72h-3.72zM55.8 7.44h3.72v3.72h-3.72zM78.12 7.44h3.72v3.72h-3.72zM148.8 7.44h3.72v3.72h-3.72zM3.72 11.16h3.72v3.72h-3.72zM7.44 11.16h3.72v3.72h-3.72zM66.96 11.16h3.72v3.72h-3.72zM159.96 11.16h3.72v3.72h-3.72zM167.4 11.16h3.72v3.72h-3.72zM182.28 11.16h3.72v3.72h-3.72zM186.0 11.16h3.72v3.72h-3.72zM40.92 14.88h3.72v3.72h-3.72zM55.8 14.88h3.72v3.72h-3.72zM66.96 14.88h3.72v3.72h-3.72zM89.28 14.88h3.72v3.72h-3.72zM122.76 14.88h3.72v3.72h-3.72zM148.8 14.88h3.72v3.72h-3.72zM159.96 14.88h3.72v3.72h-3.72zM26.04 18.6h3.72v3.72h-3.72zM85.56 18.6h3.72v3.72h-3.72zM156.24 18.6h3.72v3.72h-3.72z"/><path fill="rgb(100,100,100)" d="M14.88 7.44h3.72v3.72h-3.72zM70.68 7.44h3.72v3.72h-3.72zM104.16 7.44h3.72v3.72h-3.72zM115.32 7.44h3.72v3.72h-3.72zM119.04 7.44h3.72v3.72h-3.72zM152.52 7.44h3.72v3.72h-3.72zM156.24 7.44h3.72v3.72h-3.72zM182.28 7.44h3.72v3.72h-3.72zM37.2 11.16h3.72v3.72h-3.72zM89.28 11.16h3.72v3.72h-3.72zM104.16 11.16h3.72v3.72h-3.72zM107.88 11.16h3.72v3.72h-3.72zM137.64 11.16h3.72v3.72h-3.72zM152.52 11.16h3.72v3.72h-3.72zM163.68 11.16h3.72v3.72h-3.72zM178.56 11.16h3.72v3.72h-3.72zM182.28 14.88h3.72v3.72h-3.72zM3.72 18.6h3.72v3.72h-3.72zM7.44 18.6h3.72v3.72h-3.72zM33.48 18.6h3.72v3.72h-3.72zM111.6 18.6h3.72v3.72h-3.72zM126.48 18.6h3.72v3.72h-3.72zM141.36 18.6h3.72v3.72h-3.72zM78.12 22.32h3.72v3.72h-3.72z"/><path fill="rgb(120,120,120)" d="M59.52 7.44h3.72v3.72h-3.72zM63.24 7.44h3.72v3.72h-3.72zM81.84 7.44h3.72v3.72h-3.72zM85.56 7.44h3.72v3.72h-3.72zM26.04 11.16h3.72v3.72h-3.72zM63.24 11.16h3.72v3.72h-3.72zM78.12 11.16h3.72v3.72h-3.72zM74.4 14.88h3.72v3.72h-3.72zM119.04 14.88h3.72v3.72h-3.72zM137.64 14.88h3.72v3.72h-3.72zM44.64 18.6h3.72v3.72h-3.72zM81.84 18.6h3.72v3.72h-3.72zM107.88 18.6h3.72v3.72h-3.72zM137.64 18.6h3.72v3.72h-3.72zM104.16 22.32h3.72v3.72h-3.72z"/><path fill="rgb(140,140,140)" d="M18.6 3.72h3.72v3.72h-3.72zM40.92 3.72h3.72v3.72h-3.72zM111.6 3.72h3.72v3.72h-3.72zM107.88 7.44h3.72v3.72h-3.72zM111.6 7.44h3.72v3.72h-3.72zM126.48 7.44h3.72v3.72h-3.72zM133.92 7.44h3.72v3.72h-3.72zM137.64 7.44h3.72v3.72h-3.72zM11.16 11.16h3.72v3.72h-3.72zM70.68 11.16h3.72v3.72h-3.72zM115.32 11.16h3.72v3.72h-3.72zM122.76 11.16h3.72v3.72h-3.72zM148.8 11.16h3.72v3.72h-3.72zM7.44 14.88h3.72v3.72h-3.72zM11.16 14.88h3.72v3.72h-3.72zM14.88 14.88h3.72v3.72h-3.72zM63.24 14.88h3.72v3.72h-3.72zM81.84 14.88h3.72v3.72h-3.72zM174.84 14.88h3.72v3.72h-3.72zM22.32 18.6h3.72v3.72h-3.72zM66.96 18.6h3.72v3.72h-3.72zM89.28 18.6h3.72v3.72h-3.72zM163.68 18.6h3.72v3.72h-3.72zM182.28 18.6h3.72v3.72h-3.72zM18.6 22.32h3.72v3.72h-3.72zM40.92 22.32h3.72v3.72h-3.72zM44.64 22.32h3.72v3.72h-3.72zM52.08 22.32h3.72v3.72h-3.72zM178.56 22.32h3.72v3.72h-3.72zM182.28 22.32h3.72v3.72h-3.72z"/><path fill="rgb(160,160,160)" d="M29.76 3.72h3.72v3.72h-3.72zM44.64 3.72h3.72v3.72h-3.72zM89.28 3.72h3.72v3.72h-3.72zM107.88 3.72h3.72v3.72h-3.72zM119.04 3.72h3.72v3.72h-3.72zM156.24 3.72h3.72v3.72h-3.72zM159.96 3.72h3.72v3.72h-3.72zM163.68 3.72h3.72v3.72h-3.72zM0.0 7.44h3.72v3.72h-3.72zM22.32 7.44h3.72v3.72h-3.72zM48.36 7.44h3.72v3.72h-3.72zM163.68 7.44h3.72v3.72h-3.72zM18.6 11.16h3.72v3.72h-3.72zM44.64 11.16h3.72v3.72h-3.72zM59.52 11.16h3.72v3.72h-3.72zM133.92 11.16h3.72v3.72h-3.72zM145.08 11.16h3.72v3.72h-3.72zM174.84 11.16h3.72v3.72h-3.72zM18.6 14.88h3.72v3.72h-3.72zM37.2 14.88h3.72v3.72h-3.72zM107.88 14.88h3.72v3.72h-3.72zM130.2 14.88h3.72v3.72h-3.72zM167.4 14.88h3.72v3.72h-3.72zM186.0 14.88h3.72v3.72h-3.72zM63.24 18.6h3.72v3.72h-3.72zM104.16 18.6h3.72v3.72h-3.72zM115.32 18.6h3.72v3.72h-3.72zM152.52 18.6h3.72v3.72h-3.72zM171.12 18.6h3.72v3.72h-3.72zM178.56 18.6h3.72v3.72h-3.72zM14.88 22.32h3.72v3.72h-3.72zM29.76 22.32h3.72v3.72h-3.72zM33.48 22.32h3.72v3.72h-3.72zM74.4 22.32h3.72v3.72h-3.72zM81.84 22.32h3.72v3.72h-3.72zM89.28 22.32h3.72v3.72h-3.72zM115.32 22.32h3.72v3.72h-3.72zM119.04 22.32h3.72v3.72h-3.72zM122.76 22.32h3.72v3.72h-3.72zM137.64 22.32h3.72v3.72h-3.72zM141.36 22.32h3.72v3.72h-3.72zM171.12 22.32h3.72v3.72h-3.72z"/><path fill="rgb(180,180,180)" d="M3.72 3.72h3.72v3.72h-3.72zM7.44 3.72h3.72v3.72h-3.72zM52.08 3.72h3.72v3.72h-3.72zM74.4 3.72h3.72v3.72h-3.72zM85.56 3.72h3.72v3.72h-3.72zM126.48 3.72h3.72v3.72h-3.72zM171.12 3.72h3.72v3.72h-3.72zM174.84 3.72h3.72v3.72h-3.72zM186.0 3.72h3.72v3.72h-3.72zM7.44 7.44h3.72v3.72h-3.72zM37.2 7.44h3.72v3.72h-3.72zM89.28 7.44h3.72v3.72h-3.72zM96.72 7.44h3.72v3.72h-3.72zM174.84 7.44h3.72v3.72h-3.72zM48.36 11.16h3.72v3.72h-3.72zM96.72 11.16h3.72v3.72h-3.72zM111.6 11.16h3.72v3.72h-3.72zM0.0 14.88h3.72v3.72h-3.72zM48.36 14.88h3.72v3.72h-3.72zM78.12 14.88h3.72v3.72h-3.72zM93.0 14.88h3.72v3.72h-3.72zM96.72 14.88h3.72v3.72h-3.72zM100.44 14.88h3.72v3.72h-3.72zM145.08 14.88h3.72v3.72h-3.72zM156.24 14.88h3.72v3.72h-3.72zM55.8 18.6h3.72v3.72h-3.72zM78.12 18.6h3.72v3.72h-3.72zM93.0 18.6h3.72v3.72h-3.72zM96.72 18.6h3.72v3.72h-3.72zM119.04 18.6h3.72v3.72h-3.72zM130.2 18.6h3.72v3.72h-3.72zM148.8 18.6h3.72v3.72h-3.72zM189.72 18.6h3.72v3.72h-3.72zM55.8 22.32h3.72v3.72h-3.72zM63.24 22.32h3.72v3.72h-3.72zM107.88 22.32h3.72v3.72h-3.72zM156.24 22.32h3.72v3.72h-3.72zM174.84 22.32h3.72v3.72h-3.72zM186.0 22.32h3.72v3.72h-3.72z"/><path fill="rgb(200,200,200)" d="M33.48 0.0h3.72v3.72h-3.72zM63.24 0.0h3.72v3.72h-3.72zM74.4 0.0h3.72v3.72h-3.72zM89.28 0.0h3.72v3.72h-3.72zM107.88 0.0h3.72v3.72h-3.72zM122.76 0.0h3.72v3.72h-3.72zM152.52 0.0h3.72v3.72h-3.72zM156.24 0.0h3.72v3.72h-3.72zM163.68 0.0h3.72v3.72h-3.72zM0.0 3.72h3.72v3.72h-3.72zM11.16 3.72h3.72v3.72h-3.72zM22.32 3.72h3.72v3.72h-3.72zM26.04 3.72h3.72v3.72h-3.72zM37.2 3.72h3.72v3.72h-3.72zM48.36 3.72h3.72v3.72h-3.72zM63.24 3.72h3.72v3.72h-3.72zM96.72 3.72h3.72v3.72h-3.72zM145.08 3.72h3.72v3.72h-3.72zM152.52 3.72h3.72v3.72h-3.72zM26.04 7.44h3.72v3.72h-3.72zM33.48 7.44h3.72v3.72h-3.72zM74.4 7.44h3.72v3.72h-3.72zM122.76 7.44h3.72v3.72h-3.72zM130.2 7.44h3.72v3.72h-3.72zM167.4 7.44h3.72v3.72h-3.72zM171.12 7.44h3.72v3.72h-3.72zM178.56 7.44h3.72v3.72h-3.72zM189.72 7.44h3.72v3.72h-3.72zM81.84 11.16h3.72v3.72h-3.72zM85.56 11.16h3.72v3.72h-3.72zM119.04 11.16h3.72v3.72h-3.72zM126.48 11.16h3.72v3.72h-3.72zM130.2 11.16h3.72v3.72h-3.72zM171.12 11.16h3.72v3.72h-3.72zM59.52 14.88h3.72v3.72h-3.72zM0.0 18.6h3.72v3.72h-3.72zM14.88 18.6h3.72v3.72h-3.72zM145.08 18.6h3.72v3.72h-3.72zM3.72 22.32h3.72v3.72h-3.72zM11.16 22.32h3.72v3.72h-3.72zM22.32 22.32h3.72v3.72h-3.72zM37.2 22.32h3.72v3.72h-3.72zM59.52 22.32h3.72v3.72h-3.72zM66.96 22.32h3.72v3.72h-3.72zM93.0 22.32h3.72v3.72h-3.72zM111.6 22.32h3.72v3.72h-3.72zM11.16 26.04h3.72v3.72h-3.72zM37.2 26.04h3.72v3.72h-3.72zM48.36 26.04h3.72v3.72h-3.72zM74.4 26.04h3.72v3.72h-3.72zM115.32 26.04h3.72v3.72h-3.72zM122.76 26.04h3.72v3.72h-3.72zM130.2 26.04h3.72v3.72h-3.72z"/><path fill="rgb(220,220,220)" d="M7.44 0.0h3.72v3.72h-3.72zM11.16 0.0h3.72v3.72h-3.72zM40.92 0.0h3.72v3.72h-3.72zM44.64 0.0h3.72v3.72h-3.72zM48.36 0.0h3.72v3.72h-3.72zM81.84 0.0h3.72v3.72h-3.72zM104.16 0.0h3.72v3.72h-3.72zM130.2 0.0h3.72v3.72h-3.72zM133.92 0.0h3.72v3.72h-3.72zM167.4 0.0h3.72v3.72h-3.72zM186.0 0.0h3.72v3.72h-3.72zM78.12 3.72h3.72v3.72h-3.72zM100.44 3.72h3.72v3.72h-3.72zM115.32 3.72h3.72v3.72h-3.72zM130.2 3.72h3.72v3.72h-3.72zM133.92 3.72h3.72v3.72h-3.72zM141.36 3.72h3.72v3.72h-3.72zM189.72 3.72h3.72v3.72h-3.72zM44.64 7.44h3.72v3.72h-3.72zM52.08 7.44h3.72v3.72h-3.72zM66.96 7.44h3.72v3.72h-3.72zM93.0 7.44h3.72v3.72h-3.72zM100.44 7.44h3.72v3.72h-3.72zM141.36 7.44h3.72v3.72h-3.72zM145.08 7.44h3.72v3.72h-3.72zM0.0 11.16h3.72v3.72h-3.72zM93.0 11.16h3.72v3.72h-3.72zM100.44 11.16h3.72v3.72h-3.72zM141.36 11.16h3.72v3.72h-3.72zM26.04 14.88h3.72v3.72h-3.72zM104.16 14.88h3.72v3.72h-3.72zM115.32 14.88h3.72v3.72h-3.72zM126.48 14.88h3.72v3.72h-3.72zM133.92 14.88h3.72v3.72h-3.72zM189.72 14.88h3.72v3.72h-3.72zM37.2 18.6h3.72v3.72h-3.72zM48.36 18.6h3.72v3.72h-3.72zM52.08 18.6h3.72v3.72h-3.72zM100.44 18.6h3.72v3.72h-3.72zM122.76 18.6h3.72v3.72h-3.72zM167.4 18.6h3.72v3.72h-3.72zM174.84 18.6h3.72v3.72h-3.72zM26.04 22.32h3.72v3.72h-3.72zM96.72 22.32h3.72v3.72h-3.72zM100.44 22.32h3.72v3.72h-3.72zM126.48 22.32h3.72v3.72h-3.72zM130.2 22.32h3.72v3.72h-3.72zM159.96 22.32h3.72v3.72h-3.72zM189.72 22.32h3.72v3.72h-3.72zM7.44 26.04h3.72v3.72h-3.72zM18.6 26.04h3.72v3.72h-3.72zM52.08 26.04h3.72v3.72h-3.72zM70.68 26.04h3.72v3.72h-3.72zM85.56 26.04h3.72v3.72h-3.72zM89.28 26.04h3.72v3.72h-3.72zM111.6 26.04h3.72v3.72h-3.72zM133.92 26.04h3.72v3.72h-3.72zM145.08 26.04h3.72v3.72h-3.72zM159.96 26.04h3.72v3.72h-3.72zM163.68 26.04h3.72v3.72h-3.72zM171.12 26.04h3.72v3.72h-3.72zM174.84 26.04h3.72v3.72h-3.72zM178.56 26.04h3.72v3.72h-3.72zM182.28 26.04h3.72v3.72h-3.72zM186.0 26.04h3.72v3.72h-3.72z"/><path fill="rgb(240,240,240)" d="M0.0 0.0h3.72v3.72h-3.72zM3.72 0.0h3.72v3.72h-3.72zM14.88 0.0h3.72v3.72h-3.72zM18.6 0.0h3.72v3.72h-3.72zM22.32 0.0h3.72v3.72h-3.72zM26.04 0.0h3.72v3.72h-3.72zM29.76 0.0h3.72v3.72h-3.72zM37.2 0.0h3.72v3.72h-3.72zM52.08 0.0h3.72v3.72h-3.72zM55.8 0.0h3.72v3.72h-3.72zM59.52 0.0h3.72v3.72h-3.72zM66.96 0.0h3.72v3.72h-3.72zM70.68 0.0h3.72v3.72h-3.72zM78.12 0.0h3.72v3.72h-3.72zM85.56 0.0h3.72v3.72h-3.72zM93.0 0.0h3.72v3.72h-3.72zM96.72 0.0h3.72v3.72h-3.72zM100.44 0.0h3.72v3.72h-3.72zM111.6 0.0h3.72v3.72h-3.72zM115.32 0.0h3.72v3.72h-3.72zM119.04 0.0h3.72v3.72h-3.72zM126.48 0.0h3.72v3.72h-3.72zM137.64 0.0h3.72v3.72h-3.72zM141.36 0.0h3.72v3.72h-3.72zM145.08 0.0h3.72v3.72h-3.72zM148.8 0.0h3.72v3.72h-3.72zM159.96 0.0h3.72v3.72h-3.72zM171.12 0.0h3.72v3.72h-3.72zM174.84 0.0h3.72v3.72h-3.72zM178.56 0.0h3.72v3.72h-3.72zM182.28 0.0h3.72v3.72h-3.72zM189.72 0.0h3.72v3.72h-3.72zM14.88 3.72h3.72v3.72h-3.72zM33.48 3.72h3.72v3.72h-3.72zM55.8 3.72h3.72v3.72h-3.72zM59.52 3.72h3.72v3.72h-3.72zM66.96 3.72h3.72v3.72h-3.72zM70.68 3.72h3.72v3.72h-3.72zM81.84 3.72h3.72v3.72h-3.72zM93.0 3.72h3.72v3.72h-3.72zM104.16 3.72h3.72v3.72h-3.72zM122.76 3.72h3.72v3.72h-3.72zM137.64 3.72h3.72v3.72h-3.72zM148.8 3.72h3.72v3.72h-3.72zM167.4 3.72h3.72v3.72h-3.72zM29.76 7.44h3.72v3.72h-3.72zM14.88 11.16h3.72v3.72h-3.72zM40.92 11.16h3.72v3.72h-3.72zM52.08 11.16h3.72v3.72h-3.72zM55.8 11.16h3.72v3.72h-3.72zM74.4 11.16h3.72v3.72h-3.72zM156.24 11.16h3.72v3.72h-3.72zM189.72 11.16h3.72v3.72h-3.72zM44.64 14.88h3.72v3.72h-3.72zM70.68 14.88h3.72v3.72h-3.72zM85.56 14.88h3.72v3.72h-3.72zM163.68 14.88h3.72v3.72h-3.72zM171.12 14.88h3.72v3.72h-3.72zM29.76 18.6h3.72v3.72h-3.72zM40.92 18.6h3.72v3.72h-3.72zM0.0 22.32h3.72v3.72h-3.72zM7.44 22.32h3.72v3.72h-3.72zM48.36 22.32h3.72v3.72h-3.72zM70.68 22.32h3.72v3.72h-3.72zM85.56 22.32h3.72v3.72h-3.72zM133.92 22.32h3.72v3.72h-3.72zM145.08 22.32h3.72v3.72h-3.72zM148.8 22.32h3.72v3.72h-3.72zM152.52 22.32h3.72v3.72h-3.72zM0.0 26.04h3.72v3.72h-3.72zM3.72 26.04h3.72v3.72h-3.72zM14.88 26.04h3.72v3.72h-3.72zM22.32 26.04h3.72v3.72h-3.72zM26.04 26.04h3.72v3.72h-3.72zM29.76 26.04h3.72v3.72h-3.72zM33.48 26.04h3.72v3.72h-3.72zM40.92 26.04h3.72v3.72h-3.72zM44.64 26.04h3.72v3.72h-3.72zM55.8 26.04h3.72v3.72h-3.72zM59.52 26.04h3.72v3.72h-3.72zM63.24 26.04h3.72v3.72h-3.72zM66.96 26.04h3.72v3.72h-3.72zM78.12 26.04h3.72v3.72h-3.72zM81.84 26.04h3.72v3.72h-3.72zM93.0 26.04h3.72v3.72h-3.72zM96.72 26.04h3.72v3.72h-3.72zM100.44 26.04h3.72v3.72h-3.72zM104.16 26.04h3.72v3.72h-3.72zM107.88 26.04h3.72v3.72h-3.72zM126.48 26.04h3.72v3.72h-3.72zM137.64 26.04h3.72v3.72h-3.72zM141.36 26.04h3.72v3.72h-3.72zM148.8 26.04h3.72v3.72h-3.72zM152.52 26.04h3.72v3.72h-3.72zM156.24 26.04h3.72v3.72h-3.72zM167.4 26.04h3.72v3.72h-3.72zM189.72 26.04h3.72v3.72h-3.72z"/></svg>
<div style="filter:blur(0.6px);position:absolute;left:0;top:0;width:818px;height:458px">
<div class="t" id="a1" style="left:23.5px;top:66.77px;font-size:14px;font-weight:normal;color:#6e7073;letter-spacing:0.0px;-webkit-text-stroke:0.35px #6e7073;transform-origin:0 0;transform:scaleX(1.1042);">ral "Lung Cleaning" Device</div>
<div class="t" id="a2" style="left:272.8px;top:23.93px;font-size:15px;font-weight:normal;color:#45484b;letter-spacing:0.0px;-webkit-text-stroke:0.35px #45484b;transform-origin:0 0;transform:scaleX(1.1001);">26</div>
<div class="t" id="a3" style="left:342.2px;top:23.93px;font-size:15px;font-weight:normal;color:#45484b;letter-spacing:0.0px;-webkit-text-stroke:0.35px #45484b;transform-origin:0 0;transform:scaleX(0.9458);">7%</div>
<div class="t" id="a4" style="left:272.8px;top:98.43px;font-size:15px;font-weight:normal;color:#45484b;letter-spacing:0.0px;-webkit-text-stroke:0.35px #45484b;transform-origin:0 0;transform:scaleX(0.9875);">21</div>
<div class="t" id="a5" style="left:332.0px;top:98.43px;font-size:15px;font-weight:normal;color:#45484b;letter-spacing:0.0px;-webkit-text-stroke:0.35px #45484b;transform-origin:0 0;transform:scaleX(1.0068);">40%</div>
<div class="t" id="bt1" style="left:23.8px;top:188.28px;font-size:16px;font-weight:bold;color:#26282b;letter-spacing:0.0px;-webkit-text-stroke:0.35px #26282b;transform-origin:0 0;transform:scaleX(1.0221);">Online store sessions by</div>
<div class="t" id="bt2" style="left:23.8px;top:213.78px;font-size:16px;font-weight:bold;color:#26282b;letter-spacing:0.0px;-webkit-text-stroke:0.35px #26282b;transform-origin:0 0;transform:scaleX(1.0594);">traffic source</div>
<div class="t" id="bvr" style="left:285.5px;top:189.13px;font-size:15px;font-weight:normal;color:#5c86be;letter-spacing:0.0px;-webkit-text-stroke:0.35px #5c86be;transform-origin:0 0;transform:scaleX(1.0396);">View report</div>
<div class="t" id="bl0" style="left:23.9px;top:253.13px;font-size:15px;font-weight:normal;color:#45484b;letter-spacing:0.0px;-webkit-text-stroke:0.35px #45484b;transform-origin:0 0;transform:scaleX(1.0086);">Search</div>
<div class="t" id="bv0" style="left:212.8px;top:253.13px;font-size:15px;font-weight:normal;color:#45484b;letter-spacing:0.0px;-webkit-text-stroke:0.35px #45484b;transform-origin:0 0;transform:scaleX(1.1132);">35,025</div>
<div class="t" id="bp0" style="left:332.0px;top:253.13px;font-size:15px;font-weight:normal;color:#45484b;letter-spacing:0.0px;-webkit-text-stroke:0.35px #45484b;transform-origin:0 0;transform:scaleX(1.0068);">37%</div>
<div class="t" id="bl1" style="left:23.5px;top:285.03px;font-size:15px;font-weight:normal;color:#45484b;letter-spacing:0.0px;-webkit-text-stroke:0.35px #45484b;transform-origin:0 0;transform:scaleX(1.0671);">Direct</div>
<div class="t" id="bv1" style="left:213.3px;top:285.03px;font-size:15px;font-weight:normal;color:#45484b;letter-spacing:0.0px;-webkit-text-stroke:0.35px #45484b;transform-origin:0 0;transform:scaleX(1.0933);">13,548</div>
<div class="t" id="bp1" style="left:332.0px;top:285.03px;font-size:15px;font-weight:normal;color:#45484b;letter-spacing:0.0px;-webkit-text-stroke:0.35px #45484b;transform-origin:0 0;transform:scaleX(1.0068);">24%</div>
<div class="t" id="bl2" style="left:23.9px;top:316.83px;font-size:15px;font-weight:normal;color:#45484b;letter-spacing:0.0px;-webkit-text-stroke:0.35px #45484b;transform-origin:0 0;transform:scaleX(1.0153);">Social</div>
<div class="t" id="bv2" style="left:213.3px;top:316.83px;font-size:15px;font-weight:normal;color:#45484b;letter-spacing:0.0px;-webkit-text-stroke:0.35px #45484b;transform-origin:0 0;transform:scaleX(1.1182);">11,638</div>
<div class="t" id="bp2" style="left:341.5px;top:316.83px;font-size:15px;font-weight:normal;color:#45484b;letter-spacing:0.0px;-webkit-text-stroke:0.35px #45484b;transform-origin:0 0;transform:scaleX(0.9637);">9%</div>
<div class="t" id="bl3" style="left:23.5px;top:348.73px;font-size:15px;font-weight:normal;color:#45484b;letter-spacing:0.0px;-webkit-text-stroke:0.35px #45484b;transform-origin:0 0;transform:scaleX(1.0394);">Unknown</div>
<div class="t" id="bv3" style="left:222.2px;top:348.73px;font-size:15px;font-weight:normal;color:#45484b;letter-spacing:0.0px;-webkit-text-stroke:0.35px #45484b;transform-origin:0 0;transform:scaleX(1.0923);">7,879</div>
<div class="t" id="bp3" style="left:332.0px;top:348.73px;font-size:15px;font-weight:normal;color:#45484b;letter-spacing:0.0px;-webkit-text-stroke:0.35px #45484b;transform-origin:0 0;transform:scaleX(1.0068);">31%</div>
<div class="t" id="bl4" style="left:23.5px;top:380.53px;font-size:15px;font-weight:normal;color:#45484b;letter-spacing:0.0px;-webkit-text-stroke:0.35px #45484b;">Email</div>
<div class="t" id="bv4" style="left:255.3px;top:380.53px;font-size:15px;font-weight:normal;color:#45484b;letter-spacing:0.0px;-webkit-text-stroke:0.35px #45484b;transform-origin:0 0;transform:scaleX(1.0252);">3</div>
<div class="t" id="bp4" style="left:331.8px;top:380.53px;font-size:15px;font-weight:normal;color:#45484b;letter-spacing:0.0px;-webkit-text-stroke:0.35px #45484b;transform-origin:0 0;transform:scaleX(1.0201);">67%</div>
<div class="t" id="ct" style="left:425.6px;top:63.18px;font-size:16px;font-weight:bold;color:#26282b;letter-spacing:0.0px;-webkit-text-stroke:0.35px #26282b;transform-origin:0 0;transform:scaleX(1.0526);">Sales by traffic source</div>
<div class="t" id="cvr" style="left:688.4px;top:64.03px;font-size:15px;font-weight:normal;color:#5c86be;letter-spacing:0.0px;-webkit-text-stroke:0.35px #5c86be;transform-origin:0 0;transform:scaleX(1.0289);">View report</div>
<div class="t" id="cl0" style="left:426.1px;top:102.23px;font-size:15px;font-weight:normal;color:#45484b;letter-spacing:0.0px;-webkit-text-stroke:0.35px #45484b;transform-origin:0 0;transform:scaleX(1.0255);">Search</div>
<div class="t" id="cv0" style="left:592.8px;top:102.23px;font-size:15px;font-weight:normal;color:#45484b;letter-spacing:0.0px;-webkit-text-stroke:0.35px #45484b;transform-origin:0 0;transform:scaleX(1.1041);">$95,524.37</div>
<div class="t" id="cp0" style="left:734.6px;top:102.23px;font-size:15px;font-weight:normal;color:#45484b;letter-spacing:0.0px;-webkit-text-stroke:0.35px #45484b;transform-origin:0 0;transform:scaleX(1.0268);">51%</div>
<div class="t" id="cl1" style="left:425.7px;top:134.13px;font-size:15px;font-weight:normal;color:#45484b;letter-spacing:0.0px;-webkit-text-stroke:0.35px #45484b;transform-origin:0 0;transform:scaleX(1.0619);">Direct</div>
<div class="t" id="cv1" style="left:592.8px;top:134.13px;font-size:15px;font-weight:normal;color:#45484b;letter-spacing:0.0px;-webkit-text-stroke:0.35px #45484b;transform-origin:0 0;transform:scaleX(1.1174);">$44,776.18</div>
<div class="t" id="cp1" style="left:734.6px;top:134.13px;font-size:15px;font-weight:normal;color:#45484b;letter-spacing:0.0px;-webkit-text-stroke:0.35px #45484b;transform-origin:0 0;transform:scaleX(1.0268);">26%</div>
<div class="t" id="cl2" style="left:426.1px;top:166.13px;font-size:15px;font-weight:normal;color:#45484b;letter-spacing:0.0px;-webkit-text-stroke:0.35px #45484b;transform-origin:0 0;transform:scaleX(1.0153);">Social</div>
<div class="t" id="cv2" style="left:592.8px;top:166.13px;font-size:15px;font-weight:normal;color:#45484b;letter-spacing:0.0px;-webkit-text-stroke:0.35px #45484b;transform-origin:0 0;transform:scaleX(1.1041);">$27,453.47</div>
<div class="t" id="cp2" style="left:734.6px;top:166.13px;font-size:15px;font-weight:normal;color:#45484b;letter-spacing:0.0px;-webkit-text-stroke:0.35px #45484b;transform-origin:0 0;transform:scaleX(1.0268);">22%</div>
<div class="t" id="cl3" style="left:425.7px;top:198.13px;font-size:15px;font-weight:normal;color:#45484b;letter-spacing:0.0px;-webkit-text-stroke:0.35px #45484b;transform-origin:0 0;transform:scaleX(1.0329);">Unknown</div>
<div class="t" id="cv3" style="left:602.0px;top:198.13px;font-size:15px;font-weight:normal;color:#45484b;letter-spacing:0.0px;-webkit-text-stroke:0.35px #45484b;transform-origin:0 0;transform:scaleX(1.0955);">$3,348.87</div>
<div class="t" id="cp3" style="left:734.6px;top:198.13px;font-size:15px;font-weight:normal;color:#45484b;letter-spacing:0.0px;-webkit-text-stroke:0.35px #45484b;transform-origin:0 0;transform:scaleX(1.0268);">81%</div>
<div class="t" id="dt1" style="left:426.4px;top:287.68px;font-size:16px;font-weight:bold;color:#26282b;letter-spacing:0.0px;-webkit-text-stroke:0.35px #26282b;transform-origin:0 0;transform:scaleX(1.0344);">Top landing pages by</div>
<div class="t" id="dt2" style="left:426.4px;top:313.48px;font-size:16px;font-weight:bold;color:#26282b;letter-spacing:0.0px;-webkit-text-stroke:0.35px #26282b;transform-origin:0 0;transform:scaleX(1.0089);">sessions</div>
<div class="t" id="dvr" style="left:688.2px;top:288.93px;font-size:15px;font-weight:normal;color:#5c86be;letter-spacing:0.0px;-webkit-text-stroke:0.35px #5c86be;transform-origin:0 0;transform:scaleX(1.0343);">View report</div>
<div class="t" id="dl0" style="left:426.8px;top:352.33px;font-size:15px;font-weight:normal;color:#5c86be;letter-spacing:0.0px;-webkit-text-stroke:0.35px #5c86be;text-decoration:underline;text-decoration-thickness:1.2px;text-underline-offset:2px;transform-origin:0 0;transform:scaleX(1.0744);">/products</div>
<div class="t" id="dle" style="left:427.3px;top:374.17px;font-size:14px;font-weight:normal;color:#5c86be;letter-spacing:0.0px;-webkit-text-stroke:0.35px #5c86be;text-decoration:underline;text-decoration-thickness:1.2px;text-underline-offset:2px;transform-origin:0 0;transform:scaleX(0.9516);">e</div>
<div class="t" id="dl1" style="left:426.8px;top:384.13px;font-size:15px;font-weight:normal;color:#5c86be;letter-spacing:0.0px;-webkit-text-stroke:0.35px #5c86be;text-decoration:underline;text-decoration-thickness:1.2px;text-underline-offset:2px;transform-origin:0 0;transform:scaleX(1.0384);">/orders</div>
<div class="t" id="dl2" style="left:425.8px;top:416.03px;font-size:15px;font-weight:normal;color:#5c86be;letter-spacing:0.0px;-webkit-text-stroke:0.35px #5c86be;text-decoration:underline;text-decoration-thickness:1.2px;text-underline-offset:2px;transform-origin:0 0;transform:scaleX(1.036);">Frontpage</div>
<div class="t" id="dv0" style="left:642.3px;top:352.93px;font-size:15px;font-weight:normal;color:#45484b;letter-spacing:0.0px;-webkit-text-stroke:0.35px #45484b;transform-origin:0 0;transform:scaleX(1.1176);">58,669</div>
<div class="t" id="dp0" style="left:735.0px;top:352.93px;font-size:15px;font-weight:normal;color:#45484b;letter-spacing:0.0px;-webkit-text-stroke:0.35px #45484b;transform-origin:0 0;transform:scaleX(1.0134);">27%</div>
<div class="t" id="dv1" style="left:651.5px;top:384.63px;font-size:15px;font-weight:normal;color:#45484b;letter-spacing:0.0px;-webkit-text-stroke:0.35px #45484b;transform-origin:0 0;transform:scaleX(1.1113);">1,685</div>
<div class="t" id="dp1" style="left:734.0px;top:384.63px;font-size:15px;font-weight:normal;color:#45484b;letter-spacing:0.0px;-webkit-text-stroke:0.35px #45484b;transform-origin:0 0;transform:scaleX(1.0483);">18%</div>
<div class="t" id="dv2" style="left:651.5px;top:416.13px;font-size:15px;font-weight:normal;color:#45484b;letter-spacing:0.0px;-webkit-text-stroke:0.35px #45484b;transform-origin:0 0;transform:scaleX(1.1113);">1,668</div>
<div class="t" id="dp2" style="left:734.0px;top:416.13px;font-size:15px;font-weight:normal;color:#45484b;letter-spacing:0.0px;-webkit-text-stroke:0.35px #45484b;transform-origin:0 0;transform:scaleX(1.0483);">16%</div>
</div>
</div>
<div class="shot" id="shot2" style="left:1001px;top:386px;width:818px;height:490px;border-radius:24px;background:#fefefe">
<svg style="position:absolute;left:0;top:0;filter:blur(0.65px)" width="818" height="490" viewBox="0 0 818 490"><line x1="0" y1="88" x2="751" y2="88" stroke="#efefef" stroke-width="1.6"/><line x1="0" y1="273.5" x2="751" y2="273.5" stroke="#efefef" stroke-width="1.6"/><path d="M0.3 455.3 L3.4 454.9 L6.4 454.8 L9.5 454.4 L12.5 454.3 L15.6 454 L18.6 454.1 L21.7 453.7 L24.7 453.7 L27.8 454.2 L30.8 454 L33.9 453.8 L37.0 453.7 L40.1 454.1 L43.2 453.8 L46.3 453.9 L49.4 453.6 L52.5 453.6 L55.0 453.4 L57.6 452.8 L60.1 452.7 L63.1 451.9 L66.0 451.2 L69 449.3 L71.1 449.7 L73.3 450.4 L75.4 450.2 L78.0 450.4 L80.5 448.8 L83.0 450.1 L85.6 449.3 L88.2 447.7 L90.7 445.7 L93.2 444.0 L95.8 443.2 L97.5 440.8 L99.2 441.3 L100.9 439.1 L102.8 440.1 L104.7 441.3 L106.8 441.5 L109.0 441.7 L111.1 440.6 L111.6 438.5 L112.0 436.4 L112.5 432.7 L113 430.4 L114.0 428.4 L115.0 425.0 L116.1 423.4 L117.1 420.6 L118.1 417.1 L118.7 418.3 L119.4 420.5 L120 423.4 L122.6 422.8 L123.1 419.2 L123.5 417.8 L124.0 413.6 L124.5 410.7 L126.4 413.2 L128.9 414.1 L131.5 414.0 L134 415.1 L136.0 417.1 L137.9 419 L140.4 418.4 L143.0 418.0 L145.5 418.2 L148 417.7 L149.3 420.1 L150.6 422.2 L153.1 423.5 L155.7 423.4 L158.2 423.4 L160.1 426.7 L162.1 428.9 L164 430.4 L166.7 430.5 L169.3 428.9 L172.0 426.8 L174.6 427.4 L177.3 425.6 L179.8 426.8 L182.4 426 L185.0 428.4 L187.5 429.1 L190.1 430.4 L192.6 430.8 L195.2 429.7 L197.8 431.0 L200.3 430.2 L201.9 429.2 L203.5 427.9 L205.0 428.7 L206.6 430.4 L209.6 429.0 L212.6 430.4 L215.6 429.2 L217.5 431.9 L219.4 431.4 L221.3 434.6 L223.2 435.5 L225.7 436.2 L228.3 436.6 L230.8 438.3 L233.5 437.7 L236.2 438.6 L239.0 438.7 L241.7 437.8 L243.0 434.3 L244.3 433.1 L245.6 430.4 L247.5 427.5 L249.4 427.1 L251.3 424.3 L253.2 422.8 L254.8 421.4 L256.4 419.4 L258.0 416.1 L259.6 413.9 L261.7 412.7 L263.8 408.8 L265.9 406.9 L268.5 407.5 L271 410 L274.0 410.5 L277.0 409.4 L280 410.7 L282.5 411.9 L285.1 414.3 L287.6 416.4 L289.7 416.6 L291.9 415.5 L294 416.2 L294.5 412.1 L295.0 410.8 L295.4 406.4 L295.9 403.7 L298.8 403.4 L301.6 401.1 L302.9 399.7 L304.2 396.3 L305.4 394.2 L306.7 392.0 L308 389.7 L309.9 389.4 L311.8 388.4 L314.0 390.2 L316.3 391.6 L317.6 389.4 L318.8 387.2 L320.1 384.6 L322.0 386.5 L323.9 386.5 L325.0 389.5 L326.0 392.3 L327.1 395.4 L329.7 396.2 L332.2 396 L332.5 392.6 L332.8 389.8 L333.2 388.5 L333.5 384.6 L333.8 381.8 L334.1 378.8 L334.7 380.8 L335.3 384.7 L336.0 388.1 L336.6 390.9 L337.5 387.1 L338.3 385.7 L339.2 382.7 L341.1 383.3 L341.7 386.6 L342.4 388.3 L343 392.2 L344.2 395.0 L345.4 397.2 L346.6 400.2 L347.8 402.1 L349.0 405.4 L350.2 408.0 L351.4 409.0 L352.6 412.6 L353.9 409.0 L355.1 407.7 L356.4 405.8 L357.7 401.6 L358.9 399.4 L360.2 397.1 L361.5 393.8 L362.7 391.3 L364 389 L366.2 390.0 L368.5 391.6 L370.7 393.6 L372.9 394.8 L375.2 395.3 L377.4 396.4 L379.7 398.2 L381.9 398.6 L384.1 399.8 L386.3 403.2 L388.6 405.8 L390.8 407.5 L391.8 409.3 L392.7 411.3 L393.6 414.8 L394.6 416.4 L396.2 417.1 L397.8 419 L399.4 416.7 L401 415.8 L403.2 417.3 L405.4 419 L406.9 417.7 L408.4 414.7 L409.9 413.9 L411.0 410.7 L412.0 408.0 L413.1 405.6 L413.9 409.1 L414.8 411.0 L415.6 413.9 L418.2 416.4 L420.7 416.6 L423.3 419 L425.2 417.3 L427.1 416.7 L429 415.1 L431.5 415.5 L434.1 414.2 L436.6 413.9 L437.9 415.0 L439.2 416.5 L440.5 419 L443.0 419.4 L445.6 419.6 L448.1 418.9 L450.7 420.3 L453.2 419.6 L455.0 419.0 L456.8 416.9 L458.9 414.1 L461.1 412.2 L463.2 410.6 L464.9 408.7 L466.6 405.8 L468.3 402.9 L470.4 404.6 L472.6 404.7 L474.7 406.1 L476.0 403.0 L477.2 401.0 L478.5 399.8 L479.7 396.4 L481 394.6 L482.9 392.7 L484.8 391.3 L486.8 389.7 L488.7 388.3 L488.9 384.9 L489.2 382.9 L489.4 378.0 L489.7 374.5 L489.9 373.3 L490.1 370.0 L490.4 367.1 L490.6 362.8 L492.2 360.8 L493.8 359 L496.3 360.6 L498.9 360.2 L499.9 358.7 L500.9 354.7 L502.0 353.5 L503.0 351.3 L504 348.1 L504.5 351.1 L505.1 353.5 L505.6 355.6 L506.1 358.4 L506.7 360.8 L507.2 364.1 L508.0 360.1 L508.8 358.2 L509.5 354.6 L510.3 352 L511.1 355.3 L511.9 356.3 L512.6 360.9 L513.4 363.1 L514.2 365.3 L515.1 369.0 L516.0 371.6 L516.9 374.4 L517.8 376.4 L518.7 377.9 L519.6 382.2 L520.5 384.4 L522.1 382.4 L523.7 381.9 L525.8 382.7 L527.8 384.8 L529.9 385.8 L532 387 L533.3 384.3 L534.5 382.9 L535.8 379.4 L537.1 380.9 L538.4 381.9 L539.9 379.0 L541.4 376.3 L543.0 375.1 L544.5 371.7 L546 369.2 L548.1 369.4 L550.3 368.0 L552.4 367.9 L553.0 364.7 L553.6 362.8 L554.5 365.0 L555.3 367.8 L556.2 369.2 L558.1 370.4 L560 373 L562.6 372.1 L565.1 370.9 L567.7 368.5 L569.0 367.1 L570.2 365.0 L571.5 362.2 L572.1 358.7 L572.8 357.7 L573.4 355.8 L574 352.6 L575.1 348.8 L576.1 346.6 L577.2 344.3 L578.3 346.1 L579.3 349.0 L580.4 351.3 L581.2 353.7 L582.0 356.3 L582.8 359.6 L583.6 361.5 L585.2 358.5 L586.8 357.7 L588.5 358.2 L590.2 359.9 L591.9 362.2 L592.9 359.0 L593.9 356.4 L595.0 356.0 L596.0 353.3 L597 350.1 L598.0 346.3 L598.9 344.4 L599.8 341.1 L600.8 338.6 L602.1 336.1 L603.3 334.0 L604.6 332.2 L606.2 335.1 L607.8 337.3 L608.6 334.5 L609.5 331.1 L610.3 328.4 L611.9 327.4 L613.5 327.8 L614.8 324.7 L616.0 321.4 L617.3 319.5 L617.6 317.2 L617.9 315.2 L618.3 312.0 L618.6 309.9 L620.5 311.5 L622.4 315 L624.7 312.7 L626.9 311.8 L627.5 314.1 L628.2 317.2 L628.8 319.5 L628.9 316.9 L629.0 312.9 L629.1 310.6 L629.2 307.0 L629.3 303.4 L629.4 300.1 L629.5 297.2 L629.6 294 L629.6 291.6 L629.6 288.1 L629.6 285.9 L629.6 282.5 L629.6 279.2 L629.6 276.9 L629.8 273.9 L629.9 271.3 L630.1 266.9 L630.2 264.6 L630.4 261.6 L630.5 259.5 L630.7 256.6 L630.9 252.4 L631.0 250.5 L631.2 247.2 L631.3 243.0 L631.5 240.5 L631.7 243.4 L631.9 245.7 L632.2 250.2 L632.4 252.9 L632.6 256.4 L632.8 259.1 L633.0 261.9 L633.3 265.0 L633.5 267.6 L633.7 270.5 L634.8 271.8 L635.8 275.0 L636.9 276.9 L638.0 273.0 L639.0 270.4 L640.1 268.4 L640.8 271.5 L641.5 272.4 L642.2 275.9 L644.0 273.2 L645.8 271.4 L647.6 270.5 L648.1 268.2 L648.6 263.6 L649.0 260.2 L649.5 258.9 L650.0 254.2 L650.5 252.7 L650.9 249.2 L651.4 246.4 L651.9 242.6 L652.7 246.3 L653.5 248.1 L654.3 251.3 L655.1 253.3 L656.2 255.0 L657.2 258.7 L657.6 256.3 L658.0 252.7 L658.4 250.1 L658.8 245.8 L659.2 244.2 L659.5 241.5 L659.9 236.6 L660.3 234.2 L660.7 231.7 L661.1 229.2 L661.5 225.5 L662.6 227.1 L663.6 229.1 L664.7 231.9 L664.9 228.8 L665.1 227.0 L665.4 224.7 L665.6 221.3 L665.8 219 L666.5 215.9 L667.3 213.1 L668 210.5 L668.4 207.1 L668.8 204.2 L669.2 200.4 L669.5 198.2 L669.9 196.2 L670.3 191.9 L670.7 189 L671.3 192.2 L672.0 193.7 L672.7 197.5 L673.3 199.8 L674.0 203.0 L674.6 205.5 L675.2 207.9 L675.9 210.5 L676.5 207.7 L677.0 205.3 L677.6 203.1 L678.1 198.7 L678.7 195.8 L679.2 194.5 L679.8 191.2 L679.9 189.1 L680.0 185.1 L680.2 181.9 L680.3 179.4 L680.4 175.2 L680.5 172.3 L680.7 169.1 L680.8 166.9 L680.9 163.2 L681.0 160.0 L681.1 157.9 L681.3 155.4 L681.4 150.9 L681.5 148.3 L682.0 145.7 L682.5 142.0 L683.0 139.9 L683.6 136.3 L684.1 132.5 L684.6 129.3 L685.1 126.9 L685.6 123.2 L686.2 121.5 L686.7 118.6 L687.2 115.4 L687.8 113.2 L688.3 110.8 L688.6 113.3 L688.9 117.2 L689.2 118.8 L689.6 123.5 L689.9 125.3 L690.2 128.5 L690.5 131.2 L690.7 134.2 L690.8 138.0 L691.0 141.0 L691.2 143.5 L691.3 146.3 L691.5 149.4 L693.3 148.1 L695.1 146.6 L696.9 144 L697.5 141.0 L698.2 139.0 L698.8 136.7 L699.5 132.8 L700.1 130.1 L700.7 126.9 L701.2 124.4 L701.8 122.8 L702.3 120.2 L702.9 117.2 L703 456.3 L0 456.3 Z" fill="#eef5fd"/><line x1="703.3" y1="88" x2="703.3" y2="456" stroke="#e6ecf6" stroke-width="1.4"/><line x1="0" y1="456.6" x2="764" y2="456.6" stroke="#dcdfe3" stroke-width="1.8"/><path d="M0.3 455.3 L3.4 454.9 L6.4 454.8 L9.5 454.4 L12.5 454.3 L15.6 454 L18.6 454.1 L21.7 453.7 L24.7 453.7 L27.8 454.2 L30.8 454 L33.9 453.8 L37.0 453.7 L40.1 454.1 L43.2 453.8 L46.3 453.9 L49.4 453.6 L52.5 453.6 L55.0 453.4 L57.6 452.8 L60.1 452.7 L63.1 451.9 L66.0 451.2 L69 449.3 L71.1 449.7 L73.3 450.4 L75.4 450.2 L78.0 450.4 L80.5 448.8 L83.0 450.1 L85.6 449.3 L88.2 447.7 L90.7 445.7 L93.2 444.0 L95.8 443.2 L97.5 440.8 L99.2 441.3 L100.9 439.1 L102.8 440.1 L104.7 441.3 L106.8 441.5 L109.0 441.7 L111.1 440.6 L111.6 438.5 L112.0 436.4 L112.5 432.7 L113 430.4 L114.0 428.4 L115.0 425.0 L116.1 423.4 L117.1 420.6 L118.1 417.1 L118.7 418.3 L119.4 420.5 L120 423.4 L122.6 422.8 L123.1 419.2 L123.5 417.8 L124.0 413.6 L124.5 410.7 L126.4 413.2 L128.9 414.1 L131.5 414.0 L134 415.1 L136.0 417.1 L137.9 419 L140.4 418.4 L143.0 418.0 L145.5 418.2 L148 417.7 L149.3 420.1 L150.6 422.2 L153.1 423.5 L155.7 423.4 L158.2 423.4 L160.1 426.7 L162.1 428.9 L164 430.4 L166.7 430.5 L169.3 428.9 L172.0 426.8 L174.6 427.4 L177.3 425.6 L179.8 426.8 L182.4 426 L185.0 428.4 L187.5 429.1 L190.1 430.4 L192.6 430.8 L195.2 429.7 L197.8 431.0 L200.3 430.2 L201.9 429.2 L203.5 427.9 L205.0 428.7 L206.6 430.4 L209.6 429.0 L212.6 430.4 L215.6 429.2 L217.5 431.9 L219.4 431.4 L221.3 434.6 L223.2 435.5 L225.7 436.2 L228.3 436.6 L230.8 438.3 L233.5 437.7 L236.2 438.6 L239.0 438.7 L241.7 437.8 L243.0 434.3 L244.3 433.1 L245.6 430.4 L247.5 427.5 L249.4 427.1 L251.3 424.3 L253.2 422.8 L254.8 421.4 L256.4 419.4 L258.0 416.1 L259.6 413.9 L261.7 412.7 L263.8 408.8 L265.9 406.9 L268.5 407.5 L271 410 L274.0 410.5 L277.0 409.4 L280 410.7 L282.5 411.9 L285.1 414.3 L287.6 416.4 L289.7 416.6 L291.9 415.5 L294 416.2 L294.5 412.1 L295.0 410.8 L295.4 406.4 L295.9 403.7 L298.8 403.4 L301.6 401.1 L302.9 399.7 L304.2 396.3 L305.4 394.2 L306.7 392.0 L308 389.7 L309.9 389.4 L311.8 388.4 L314.0 390.2 L316.3 391.6 L317.6 389.4 L318.8 387.2 L320.1 384.6 L322.0 386.5 L323.9 386.5 L325.0 389.5 L326.0 392.3 L327.1 395.4 L329.7 396.2 L332.2 396 L332.5 392.6 L332.8 389.8 L333.2 388.5 L333.5 384.6 L333.8 381.8 L334.1 378.8 L334.7 380.8 L335.3 384.7 L336.0 388.1 L336.6 390.9 L337.5 387.1 L338.3 385.7 L339.2 382.7 L341.1 383.3 L341.7 386.6 L342.4 388.3 L343 392.2 L344.2 395.0 L345.4 397.2 L346.6 400.2 L347.8 402.1 L349.0 405.4 L350.2 408.0 L351.4 409.0 L352.6 412.6 L353.9 409.0 L355.1 407.7 L356.4 405.8 L357.7 401.6 L358.9 399.4 L360.2 397.1 L361.5 393.8 L362.7 391.3 L364 389 L366.2 390.0 L368.5 391.6 L370.7 393.6 L372.9 394.8 L375.2 395.3 L377.4 396.4 L379.7 398.2 L381.9 398.6 L384.1 399.8 L386.3 403.2 L388.6 405.8 L390.8 407.5 L391.8 409.3 L392.7 411.3 L393.6 414.8 L394.6 416.4 L396.2 417.1 L397.8 419 L399.4 416.7 L401 415.8 L403.2 417.3 L405.4 419 L406.9 417.7 L408.4 414.7 L409.9 413.9 L411.0 410.7 L412.0 408.0 L413.1 405.6 L413.9 409.1 L414.8 411.0 L415.6 413.9 L418.2 416.4 L420.7 416.6 L423.3 419 L425.2 417.3 L427.1 416.7 L429 415.1 L431.5 415.5 L434.1 414.2 L436.6 413.9 L437.9 415.0 L439.2 416.5 L440.5 419 L443.0 419.4 L445.6 419.6 L448.1 418.9 L450.7 420.3 L453.2 419.6 L455.0 419.0 L456.8 416.9 L458.9 414.1 L461.1 412.2 L463.2 410.6 L464.9 408.7 L466.6 405.8 L468.3 402.9 L470.4 404.6 L472.6 404.7 L474.7 406.1 L476.0 403.0 L477.2 401.0 L478.5 399.8 L479.7 396.4 L481 394.6 L482.9 392.7 L484.8 391.3 L486.8 389.7 L488.7 388.3 L488.9 384.9 L489.2 382.9 L489.4 378.0 L489.7 374.5 L489.9 373.3 L490.1 370.0 L490.4 367.1 L490.6 362.8 L492.2 360.8 L493.8 359 L496.3 360.6 L498.9 360.2 L499.9 358.7 L500.9 354.7 L502.0 353.5 L503.0 351.3 L504 348.1 L504.5 351.1 L505.1 353.5 L505.6 355.6 L506.1 358.4 L506.7 360.8 L507.2 364.1 L508.0 360.1 L508.8 358.2 L509.5 354.6 L510.3 352 L511.1 355.3 L511.9 356.3 L512.6 360.9 L513.4 363.1 L514.2 365.3 L515.1 369.0 L516.0 371.6 L516.9 374.4 L517.8 376.4 L518.7 377.9 L519.6 382.2 L520.5 384.4 L522.1 382.4 L523.7 381.9 L525.8 382.7 L527.8 384.8 L529.9 385.8 L532 387 L533.3 384.3 L534.5 382.9 L535.8 379.4 L537.1 380.9 L538.4 381.9 L539.9 379.0 L541.4 376.3 L543.0 375.1 L544.5 371.7 L546 369.2 L548.1 369.4 L550.3 368.0 L552.4 367.9 L553.0 364.7 L553.6 362.8 L554.5 365.0 L555.3 367.8 L556.2 369.2 L558.1 370.4 L560 373 L562.6 372.1 L565.1 370.9 L567.7 368.5 L569.0 367.1 L570.2 365.0 L571.5 362.2 L572.1 358.7 L572.8 357.7 L573.4 355.8 L574 352.6 L575.1 348.8 L576.1 346.6 L577.2 344.3 L578.3 346.1 L579.3 349.0 L580.4 351.3 L581.2 353.7 L582.0 356.3 L582.8 359.6 L583.6 361.5 L585.2 358.5 L586.8 357.7 L588.5 358.2 L590.2 359.9 L591.9 362.2 L592.9 359.0 L593.9 356.4 L595.0 356.0 L596.0 353.3 L597 350.1 L598.0 346.3 L598.9 344.4 L599.8 341.1 L600.8 338.6 L602.1 336.1 L603.3 334.0 L604.6 332.2 L606.2 335.1 L607.8 337.3 L608.6 334.5 L609.5 331.1 L610.3 328.4 L611.9 327.4 L613.5 327.8 L614.8 324.7 L616.0 321.4 L617.3 319.5 L617.6 317.2 L617.9 315.2 L618.3 312.0 L618.6 309.9 L620.5 311.5 L622.4 315 L624.7 312.7 L626.9 311.8 L627.5 314.1 L628.2 317.2 L628.8 319.5 L628.9 316.9 L629.0 312.9 L629.1 310.6 L629.2 307.0 L629.3 303.4 L629.4 300.1 L629.5 297.2 L629.6 294 L629.6 291.6 L629.6 288.1 L629.6 285.9 L629.6 282.5 L629.6 279.2 L629.6 276.9 L629.8 273.9 L629.9 271.3 L630.1 266.9 L630.2 264.6 L630.4 261.6 L630.5 259.5 L630.7 256.6 L630.9 252.4 L631.0 250.5 L631.2 247.2 L631.3 243.0 L631.5 240.5 L631.7 243.4 L631.9 245.7 L632.2 250.2 L632.4 252.9 L632.6 256.4 L632.8 259.1 L633.0 261.9 L633.3 265.0 L633.5 267.6 L633.7 270.5 L634.8 271.8 L635.8 275.0 L636.9 276.9 L638.0 273.0 L639.0 270.4 L640.1 268.4 L640.8 271.5 L641.5 272.4 L642.2 275.9 L644.0 273.2 L645.8 271.4 L647.6 270.5 L648.1 268.2 L648.6 263.6 L649.0 260.2 L649.5 258.9 L650.0 254.2 L650.5 252.7 L650.9 249.2 L651.4 246.4 L651.9 242.6 L652.7 246.3 L653.5 248.1 L654.3 251.3 L655.1 253.3 L656.2 255.0 L657.2 258.7 L657.6 256.3 L658.0 252.7 L658.4 250.1 L658.8 245.8 L659.2 244.2 L659.5 241.5 L659.9 236.6 L660.3 234.2 L660.7 231.7 L661.1 229.2 L661.5 225.5 L662.6 227.1 L663.6 229.1 L664.7 231.9 L664.9 228.8 L665.1 227.0 L665.4 224.7 L665.6 221.3 L665.8 219 L666.5 215.9 L667.3 213.1 L668 210.5 L668.4 207.1 L668.8 204.2 L669.2 200.4 L669.5 198.2 L669.9 196.2 L670.3 191.9 L670.7 189 L671.3 192.2 L672.0 193.7 L672.7 197.5 L673.3 199.8 L674.0 203.0 L674.6 205.5 L675.2 207.9 L675.9 210.5 L676.5 207.7 L677.0 205.3 L677.6 203.1 L678.1 198.7 L678.7 195.8 L679.2 194.5 L679.8 191.2 L679.9 189.1 L680.0 185.1 L680.2 181.9 L680.3 179.4 L680.4 175.2 L680.5 172.3 L680.7 169.1 L680.8 166.9 L680.9 163.2 L681.0 160.0 L681.1 157.9 L681.3 155.4 L681.4 150.9 L681.5 148.3 L682.0 145.7 L682.5 142.0 L683.0 139.9 L683.6 136.3 L684.1 132.5 L684.6 129.3 L685.1 126.9 L685.6 123.2 L686.2 121.5 L686.7 118.6 L687.2 115.4 L687.8 113.2 L688.3 110.8 L688.6 113.3 L688.9 117.2 L689.2 118.8 L689.6 123.5 L689.9 125.3 L690.2 128.5 L690.5 131.2 L690.7 134.2 L690.8 138.0 L691.0 141.0 L691.2 143.5 L691.3 146.3 L691.5 149.4 L693.3 148.1 L695.1 146.6 L696.9 144 L697.5 141.0 L698.2 139.0 L698.8 136.7 L699.5 132.8 L700.1 130.1 L700.7 126.9 L701.2 124.4 L701.8 122.8 L702.3 120.2 L702.9 117.2" fill="none" stroke="#5b9fd8" stroke-width="3.4" stroke-linejoin="round" stroke-linecap="round"/><path d="M688 112 L693.3 128 L702.6 117.5 L703 136 L697 146 L690.3 151.5 L689 132 Z" fill="#63a4dc" stroke="#5b9fd8" stroke-width="1.5" stroke-linejoin="round"/><line x1="647.5" y1="19" x2="647.5" y2="54" stroke="#f4f4f4" stroke-width="1.5"/><line x1="812.5" y1="19" x2="812.5" y2="54" stroke="#f4f4f4" stroke-width="1.5"/><rect x="245" y="26.5" width="2.2" height="10.5" fill="#c4c4c4"/><rect x="245" y="21.8" width="2.2" height="2.6" fill="#c4c4c4"/><line x1="447.3" y1="64.3" x2="447.3" y2="465.3" stroke="#f2146f" stroke-width="9.4" stroke-linecap="round"/><path d="M399 181.9 H364.7 V200 H399 V209.2 L434.3 190.8 L399 172.3 Z" fill="none" stroke="#f2146f" stroke-width="8.6" stroke-linejoin="round"/></svg>
<div style="filter:blur(0.5px);position:absolute;left:0;top:0;width:818px;height:490px">
<div class="t" id="h1" style="left:15.1px;top:18.81px;font-size:30px;font-weight:bold;color:#333333;letter-spacing:0.0px;transform-origin:0 0;transform:scaleX(1.0798);">Organic traffic</div>
<div class="t" id="h2" style="left:523.7px;top:24.54px;font-size:27px;font-weight:bold;color:#333333;letter-spacing:0.0px;transform-origin:0 0;transform:scaleX(1.0583);">All time</div>
<div class="t" id="h3" style="left:676.3px;top:24.54px;font-size:27px;font-weight:normal;color:#4a70b8;letter-spacing:0.0px;transform-origin:0 0;transform:scaleX(1.04);">One year</div>
<div class="t" id="y1" style="left:716.3px;top:106.77px;font-size:20px;font-weight:normal;color:#929292;letter-spacing:-0.2px;">10K</div>
<div class="t" id="y2" style="left:727.0px;top:289.37px;font-size:20px;font-weight:normal;color:#929292;letter-spacing:0.2px;">5K</div>
<div class="t" id="k1" style="left:37.0px;top:151.16px;font-size:37.5px;font-weight:bold;color:#f2146f;letter-spacing:0.0px;transform-origin:0 0;transform:scaleX(1.0822);">Organic Traffic</div>
<div class="t" id="k2" style="left:6.0px;top:199.96px;font-size:37.5px;font-weight:bold;color:#f2146f;letter-spacing:0.0px;transform-origin:0 0;transform:scaleX(1.1083);">Campaigns Begin</div>
</div>
</div>
</body>
</html>
